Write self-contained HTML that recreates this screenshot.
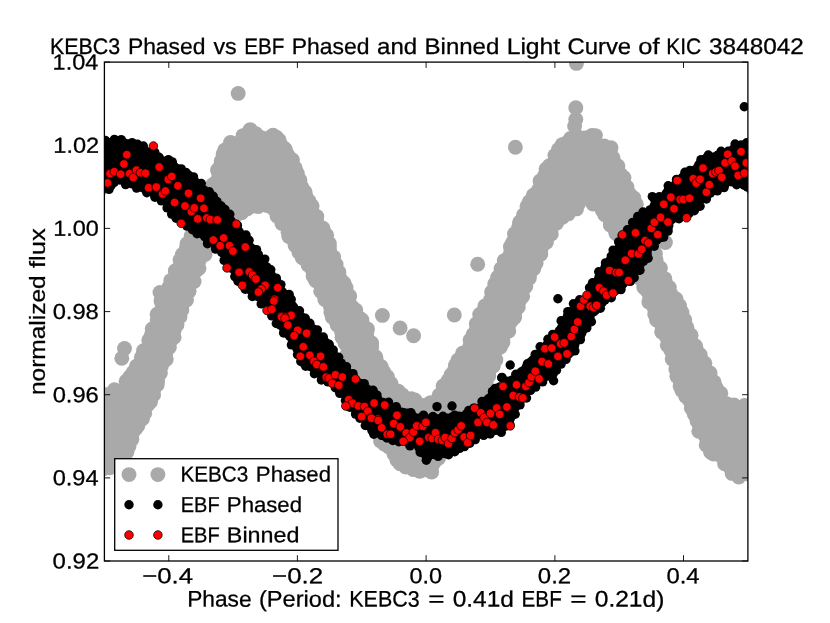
<!DOCTYPE html>
<html><head><meta charset="utf-8"><title>KIC 3848042 light curve</title>
<style>html,body{margin:0;padding:0;background:#fff;}svg{display:block;will-change:transform;}text{font-family:"Liberation Sans",sans-serif;}</style></head>
<body>
<svg width="830" height="623" viewBox="0 0 830 623">
<defs><clipPath id="ax"><rect x="104.4" y="62.1" width="643.5" height="498.9"/></clipPath></defs>
<rect width="830" height="623" fill="#fff"/>
<g clip-path="url(#ax)">
<g fill="#a9a9a9">
<polygon points="100.2,397.5 103.5,396.9 106.5,396.4 109.4,395.2 113.1,393.7 116.9,392.1 120.7,390.6 123.7,388.8 126,385.9 128.3,382.9 130.8,379.6 132.8,377.1 134.8,374.6 136.9,372 138.4,369 139.9,366 141.4,362.9 142.6,360.1 143.8,357.3 145,354.5 146.2,351.7 147.5,348.9 148.8,346.1 149.9,343.3 151,340.3 152,337.4 153,334.5 154,331.7 155.1,328.9 156.2,326 157.3,323.1 158.4,320.2 159.5,317.3 160.3,314.3 161.2,311.2 161.9,308.7 162.5,306.2 163.1,303.8 163.9,301 165.6,298.6 167.3,296.2 168.9,293.8 170,290.6 171.2,287.3 172.2,284.3 173,281.7 173.9,279.1 175.2,276.6 176.5,274.2 177.9,271.7 179.3,269.1 180.7,266.3 181.9,263.4 183.1,260.4 184.3,257.5 185.5,254.6 186.5,251.9 187.6,249.2 188.7,246.6 189.9,244 191.2,241.4 192.5,238.8 193.8,236.2 195.2,233.4 196.6,230.7 197.9,227.9 199.3,225.1 200.5,222.3 201.6,219.4 202.8,216.5 204,213.8 205.1,211 206.3,208.2 207.5,205.4 208.6,202.6 209.8,199.8 210.9,197 212,194.2 213.1,191.4 214.3,188.5 215.4,185.7 216.6,182.8 217.6,179.8 218.6,176.9 219.5,173.9 220.4,171 221.3,168.1 222.2,165.3 223.1,162.5 224.1,159.6 224.9,157.2 225.7,154.8 226.4,152.3 227.7,150 228.8,148.6 229.8,147.1 230.6,145.5 232.3,144.3 234.7,143.4 237.1,142.5 239.5,141.6 242.2,139.7 244.9,137.7 247.6,135.7 249.1,134.5 250,133.4 250.7,132.1 251.7,133 252.8,134.4 254.1,135.7 256.7,136.8 260.9,138.1 263.8,139.1 266.7,139 269.1,137.6 271.5,136.8 273.3,138.1 274.2,138.8 275.4,139.3 277,141.1 278.3,143 279.7,144.8 281.2,146.6 282.8,148.9 284.3,151.3 285.6,153.5 287,155.7 288.4,158 289.7,160.4 290.6,163 291.6,165.5 292.6,168 293.6,170.7 294.6,173.5 295.5,176.3 296.5,179.3 297.5,182.3 298.5,185.4 299.8,188.3 301.4,191.2 302.9,194 304.4,196.8 305.8,199.4 307.1,202.1 308.5,204.7 309.8,207.4 311.1,210.1 312.5,212.8 313.9,215.5 315.3,218.1 316.7,220.7 318.2,223.3 319.5,225.9 320.7,228.4 321.8,231 323,233.6 324.2,236.2 325.2,238.9 326.2,241.5 327.2,244 328.2,246.5 328.9,249.2 329.6,252.2 330.2,255.1 330.8,258.1 331.7,261.2 332.9,264.2 334.1,267.3 335.3,270.4 336.5,273.2 337.6,276.1 339,278.9 340.3,281.7 341.6,284.4 342.8,287.1 344.1,289.8 345.3,292.5 346.6,295.2 347.8,298 349,300.7 350.2,303.4 351.6,306.3 352.9,309.3 354.2,312.2 355.9,314.9 357.6,317.6 359.2,320.1 360.8,322.5 362.2,324.8 363.5,327.1 364.5,329.7 365.4,332.2 366.3,334.6 367.3,337.3 368.4,340.1 369.3,342.8 370.1,345.6 370.9,348.4 371.8,351.4 372.7,354.6 373.7,357.7 375,360.7 376.6,363.6 378.2,366.6 379.7,369.5 381.2,372.2 382.7,374.8 384.2,377.4 385.9,380.4 387.6,383.4 389.4,386.4 391.5,389.1 394,391.5 397.1,394.3 400.2,397 403.1,399.4 406.2,400.2 409.4,400.9 412.6,401.6 417,403.3 420.8,405.1 424.7,406.8 429.2,406.7 434,403.8 438.2,400.4 441.4,396.7 442.8,393.6 444.3,390.6 445.7,387.5 447.1,385 448.6,382.6 450.1,380.2 451.7,377.7 453.3,375.1 454.8,372.4 456.2,369.6 457.6,367 459,364.4 460.3,361.9 461.7,359.5 463.4,357.1 465.2,354.6 466.9,352 468.8,349.2 470.7,346.5 471.9,343.4 473.2,340.3 474.4,337.2 475.5,334.4 476.7,331.6 477.7,328.7 478.8,325.9 479.8,323 480.9,320.2 481.9,317.6 482.8,314.9 483.8,312.3 485.1,309.8 486.4,307.3 487.8,304.8 489.2,302.3 490.6,299.5 491.9,296.7 493.3,293.8 494.6,290.9 496,288 497.2,285.1 498.3,282.2 499.3,279.4 500.3,276.6 501.2,274 502.2,271.3 503.5,268.8 504.8,266.3 506.1,263.5 507.6,260.6 509,257.8 510,254.7 511,251.6 511.9,248.6 512.9,245.6 513.7,242.8 514.7,240 515.6,237.2 516.6,234.6 517.4,232.1 518.4,229.5 519.5,227 520.9,224.6 522.3,222.1 523.7,219.6 525.3,216.9 526.8,214.2 528.1,211.4 529.4,208.6 530.7,205.8 531.9,203.2 533.2,200.5 534.5,197.9 535.9,195.3 537.3,192.6 538.8,189.9 540.3,187.1 541.6,184.3 542.8,181.3 543.8,178.7 544.8,176.1 545.8,173.7 546.9,171.3 548.5,169.2 550.1,167 551.8,164.8 553.7,162.3 555.5,159.8 557.1,157.1 558.6,154.8 560,152.4 561.3,150.2 562.7,148.1 564.7,146.3 566.5,144.7 568.4,143.1 570.5,141.2 571.9,140 573.2,138.9 574.4,137.6 576.5,138 578.8,138.6 581.1,139.2 583.4,139.7 585.6,139.2 587.6,138.6 589.6,137.9 591.1,137 592.3,138.8 593.5,140.6 594.9,142.4 597.3,144.9 599.8,146.1 602.2,147.2 604.6,148.4 606.3,149.5 607.2,151.4 608.1,153.5 609.2,155.5 610.6,158.2 612.2,160.9 613.8,163.5 615.2,165.9 616.7,168.2 618.1,170.5 619.4,172.9 620.3,175.5 621.3,178.2 622.3,181 623.4,184 624.6,186.9 626.1,189.8 627.6,192.4 629,195.1 630.3,197.6 631.5,200.1 632.5,202.8 633.6,205.4 634.6,208 635.6,210.8 636.7,213.6 637.7,216.4 638.7,219.2 639.8,222 640.8,224.8 641.9,227.6 642.9,230.5 644,233.3 645,236.1 646.1,239 647.2,241.8 648.3,244.6 649.5,247.4 650.6,250.2 651.7,253 652.8,255.8 653.9,258.6 655.1,261.4 656.2,264.2 657.4,267 658.6,269.9 659.8,272.7 660.9,275.6 662.3,278.4 663.7,281.2 665.1,283.9 666.5,286.7 667.8,289.5 669.2,292.2 670.6,294.9 672,297.5 673.4,300.2 674.8,302.7 676.1,305.2 677.4,307.6 678.5,310.2 679.4,312.8 680.4,315.5 681.3,318.2 682.4,321.1 683.4,324 684.5,326.9 685.8,329.8 687,332.6 688.3,335.6 689.5,338.4 690.8,341.3 692.2,344 693.6,346.8 695.1,349.5 696.5,352.2 697.9,354.8 699.3,357.4 700.5,360 701.8,362.7 703,365.3 704.2,368 705.5,370.7 706.8,373.4 708,376.1 709.3,378.8 710.7,381.9 712.1,384.9 713.5,387.7 715.4,390.2 717.3,392.7 719.5,396 721.6,399.3 724.1,402.7 727.7,404.9 731.8,406.8 736.1,407.7 740.5,408 744.1,408 747.8,408 750.8,407.9 753.9,407.8 754.4,407.7 751.9,470.5 749.3,470.9 746.1,471.5 744.2,472.3 742.2,473.3 740.2,474.4 738.7,475 737.5,474.2 736.2,473.6 735.2,472.4 733.6,471 732.1,469.5 730.4,468.1 728.6,465.4 726.8,462.6 725,459.8 723,457.2 720.3,455.7 717.6,454.2 714.8,452.7 712.8,451.4 711.7,449.8 710.6,448.2 709.3,446.7 708.4,443.9 707.4,441.2 706.5,438.4 705,436 703.5,433.7 702.1,431.5 700.6,429.2 699.9,426.5 699.7,423.7 699.4,420.8 698.6,418.1 697.2,415 695.6,411.8 694.1,408.7 692.8,406 691.4,403.3 690.1,400.6 688.8,398 687.5,395.4 686.2,392.8 685,390.2 683.9,387.7 682.9,385.2 681.8,382.7 680.8,380 680.1,377.3 679.4,374.6 678.7,371.9 678,369 677.2,366.1 676.4,363 675.6,360 674.8,356.9 673.8,353.9 672.7,350.9 671.5,348 670.3,345 669.2,342.2 668,339.3 666.9,336.5 665.7,333.7 664.5,330.9 663.2,328.1 662,325.3 660.7,322.6 659.5,319.9 658.3,317.2 657.1,314.5 656,311.8 654.9,309.1 653.8,306.3 652.7,303.6 651.6,300.8 650.5,298 649.4,295.1 648.2,292.3 646.9,289.5 645.7,286.7 644.5,283.9 643.3,281.1 642,278.3 640.7,275.6 639.4,272.8 638.1,270.1 636.8,267.3 635.5,264.6 634.2,261.9 632.8,259.2 631.5,256.4 630.2,253.6 628.8,250.9 627.3,248.2 625.8,245.5 624.3,242.8 622.8,240.1 621.3,237.5 619.8,234.8 618.3,232.1 616.7,229.4 615.2,226.8 613.5,224.2 611.9,221.6 610.1,218.7 608.3,216 606.5,213.2 604.4,210.7 602.1,208.3 598.6,204.9 594.5,201.6 590.1,198.8 585.4,199.8 581,202.1 577.1,204.6 573.5,207.3 571.4,209 569,210.4 566.6,211.7 563.5,213.5 560.2,215.5 556.9,217.6 554.7,220.6 552.8,224 551.1,227.4 549.5,230.8 548.2,233.5 547,236.1 545.7,238.7 544.3,241.3 542.9,243.9 541.5,246.6 540,249.3 538.6,252 537.3,254.8 536,257.6 534.7,260.4 533.4,263.2 532.1,265.9 530.8,268.7 529.6,271.5 528.4,274.2 527.1,277.1 525.9,280 524.6,282.8 523.5,285.7 522.5,288.6 521.4,291.5 520.4,294.4 519.4,297.1 518.5,299.9 517.4,302.6 516.3,305.4 515.2,308.1 514.1,310.7 513,313.5 511.8,316.2 510.7,319 509.5,321.7 508.3,324.4 507.1,327.1 505.9,329.8 504.8,332.5 503.5,335.2 502.3,337.9 501,340.6 499.7,343.4 498.4,346.2 497.1,349 495.8,351.8 494.7,354.7 493.6,357.5 492.5,360.3 491.4,363.1 490.3,365.8 489.1,368.5 487.9,371.1 486.7,373.8 485.5,376.5 484.3,379.3 483.1,382 481.9,384.6 480.8,387.2 479.7,389.8 478.3,392.3 476.8,394.7 475.4,397.1 473.9,399.5 472.4,402.1 470.8,404.7 469.3,407.3 467.7,409.8 466.2,412.3 464.7,414.9 463.2,417.4 461.7,419.9 460.1,422.3 458.4,424.8 456.8,427.2 455.1,429.7 453.5,432.2 451.8,434.7 450.2,437.2 448.5,439.7 446.8,442.2 445.2,444.7 443.5,447.2 441.8,449.7 440.2,452.2 438.5,454.7 436.7,457.3 435,460 433.2,462.7 431.4,465.4 430.7,467.2 430.2,468.9 429.9,470.7 428.7,470.2 427.5,469.7 426.3,469.7 424.9,469.5 422.4,469 419.8,468.5 417.6,468.2 415.1,467.8 412.6,467.4 410.3,466.4 408.1,465.2 405.9,463.9 404.3,463.1 402.3,462.1 400.3,461.2 399.1,459.5 397.9,457.1 396.8,454.8 395.6,452.5 393.5,449.8 391.1,447.4 388.7,445 386.6,442.8 384.8,441 382.9,439.2 381.7,437 380.5,434.7 379.4,432.5 378.2,430.4 376.9,427.9 375.9,425.3 374.9,422.7 374,420 373,417.4 372,414.6 370.9,411.8 369.9,409 368.9,406.3 367.8,403.5 366.9,400.7 366,397.9 365,395.1 364.1,392.3 363.2,389.5 362.3,386.6 361.4,383.8 360.4,380.9 359.5,378.1 358.6,375.2 357.6,372.4 356.7,369.5 355.8,366.6 354.8,363.7 353.8,360.8 352.8,357.9 351.8,355 350.7,352.2 349.7,349.4 348.7,346.5 347.6,343.7 346.6,340.9 345.6,338.1 344.5,335 343.3,332 342.2,328.9 340.7,326 339.2,323.4 337.6,320.7 336,318.1 334.9,315.6 333.8,313 332.8,310.4 331.7,307.7 330.5,304.9 329.3,302 328,299.2 326.6,296.4 325.2,293.6 323.8,290.9 322.5,288.2 321.1,285.5 319.8,282.8 318.5,280.1 317.1,277.4 315.8,274.8 314.4,272.1 313.1,269.4 311.6,266.3 310.1,263.5 308.7,260.7 306.7,258.3 304.7,255.9 303,253.3 301.3,250.6 299.8,248.4 298.2,245.9 296.6,243.4 295,240.8 293.5,238.3 291.9,235.8 290.4,233.3 288.8,230.8 287.3,228.2 285.8,225.6 284.3,223.1 282.4,219.9 280.4,216.7 278.3,213.5 276,210.5 271.9,208 267.3,205.9 262.7,204.1 258.8,203.7 254.8,204.8 250.6,206.2 246.6,207.7 243.6,208.9 240.8,210.4 237.7,212.2 234.6,214 231.5,215.8 228.7,217.6 226.3,220 223.9,222.3 221.5,224.7 219.1,227.1 216.8,229.5 214.4,231.9 212.7,234.7 211,237.6 209.2,240.5 207.4,243.6 205.8,246.3 204.2,249.1 202.7,252 201.6,255 200.4,258 199.3,261 198.2,263.8 197.1,266.5 195.9,269.2 194.8,272 193.7,274.7 192.5,277.5 191.4,280.3 190.3,283.1 189.1,285.9 188,288.7 186.9,291.5 185.8,294.3 184.7,297.1 183.5,299.9 182.4,302.7 181.3,305.5 180.2,308.3 179.1,311.1 178,313.9 176.9,316.9 175.7,319.9 174.5,323 173.5,326 172.9,328.9 172.4,331.7 171.8,334.5 171.2,337.1 169.9,339.8 168.5,342.6 167.1,345.4 166.3,348.2 165.9,351.2 165.5,354.2 164.2,356.9 162.9,359.5 161.6,362.1 160.3,364.6 159.4,367.7 158.7,370.8 158,373.9 157.3,377 156.4,379.6 155.6,382.2 154.7,384.8 153.8,387.5 152.6,390.2 151.5,392.7 150.4,395.3 149.3,398 148.1,400.6 146.8,403.2 145.5,405.9 144.2,408.5 142.8,411.2 141.5,413.8 140.1,416.6 138.7,419.4 137.4,422.2 136,424.9 134.8,427.7 133.7,430.5 132.5,433.3 131.3,435.9 130.1,438.5 128.8,441.1 127.5,443.7 126.4,446.1 125.2,448.4 124.1,450.7 122.6,452.9 120.8,454.8 119.2,456.6 117.6,458.3 115.8,460.4 114.2,461.7 112.5,463 110.9,464.3 109.1,465.2 106.8,465.6 104.5,466 102.2,466.4 99.2,466.9 96.3,467.4"/><circle cx="102.3" cy="394.1" r="7.45"/><circle cx="114.5" cy="389.8" r="7.45"/><circle cx="126.1" cy="381.3" r="7.45"/><circle cx="129.7" cy="376.9" r="7.45"/><circle cx="133.1" cy="372.5" r="7.45"/><circle cx="136.3" cy="366.3" r="7.45"/><circle cx="141.4" cy="357.2" r="7.45"/><circle cx="143.5" cy="350.7" r="7.45"/><circle cx="148.8" cy="340.3" r="7.45"/><circle cx="152.2" cy="328.9" r="7.45"/><circle cx="157.1" cy="314.3" r="7.45"/><circle cx="161" cy="300.8" r="7.45"/><circle cx="163.5" cy="296.6" r="7.45"/><circle cx="168.9" cy="287.2" r="7.45"/><circle cx="170.8" cy="280.6" r="7.45"/><circle cx="175.3" cy="270.7" r="7.45"/><circle cx="180" cy="259.9" r="7.45"/><circle cx="182.4" cy="254.4" r="7.45"/><circle cx="187" cy="243.8" r="7.45"/><circle cx="191.1" cy="236" r="7.45"/><circle cx="195.3" cy="226.8" r="7.45"/><circle cx="201" cy="214.7" r="7.45"/><circle cx="204" cy="207.3" r="7.45"/><circle cx="208.5" cy="197.1" r="7.45"/><circle cx="212.7" cy="184.8" r="7.45"/><circle cx="217.5" cy="170" r="7.45"/><circle cx="221.2" cy="160.9" r="7.45"/><circle cx="223.1" cy="154.1" r="7.45"/><circle cx="224.6" cy="150.3" r="7.45"/><circle cx="230.5" cy="142.5" r="7.45"/><circle cx="243.1" cy="135.6" r="7.45"/><circle cx="250.2" cy="129.6" r="7.45"/><circle cx="255.9" cy="133.7" r="7.45"/><circle cx="273" cy="135.2" r="7.45"/><circle cx="276.2" cy="137.1" r="7.45"/><circle cx="279" cy="140" r="7.45"/><circle cx="285.3" cy="149.2" r="7.45"/><circle cx="292.5" cy="159.9" r="7.45"/><circle cx="295.2" cy="168.1" r="7.45"/><circle cx="297.3" cy="173.5" r="7.45"/><circle cx="299.9" cy="179.9" r="7.45"/><circle cx="301.4" cy="186.5" r="7.45"/><circle cx="305.1" cy="192" r="7.45"/><circle cx="309" cy="201.1" r="7.45"/><circle cx="312.1" cy="206.1" r="7.45"/><circle cx="316.8" cy="216.4" r="7.45"/><circle cx="323" cy="228.3" r="7.45"/><circle cx="326.7" cy="235.2" r="7.45"/><circle cx="329.3" cy="243.6" r="7.45"/><circle cx="333.7" cy="257.1" r="7.45"/><circle cx="336.1" cy="264.5" r="7.45"/><circle cx="338.9" cy="272.1" r="7.45"/><circle cx="344.2" cy="283.2" r="7.45"/><circle cx="346.1" cy="287.8" r="7.45"/><circle cx="349.7" cy="296" r="7.45"/><circle cx="355.8" cy="310.1" r="7.45"/><circle cx="362" cy="320" r="7.45"/><circle cx="367.5" cy="328.9" r="7.45"/><circle cx="371.7" cy="343" r="7.45"/><circle cx="375.8" cy="356.9" r="7.45"/><circle cx="381.1" cy="366.4" r="7.45"/><circle cx="383.8" cy="371.9" r="7.45"/><circle cx="387.4" cy="376.8" r="7.45"/><circle cx="391" cy="383.4" r="7.45"/><circle cx="398.2" cy="391.1" r="7.45"/><circle cx="402.5" cy="395" r="7.45"/><circle cx="411.3" cy="398.8" r="7.45"/><circle cx="414.9" cy="400" r="7.45"/><circle cx="430.6" cy="402.6" r="7.45"/><circle cx="439.1" cy="395.2" r="7.45"/><circle cx="443.1" cy="386" r="7.45"/><circle cx="451" cy="375" r="7.45"/><circle cx="455.4" cy="365.6" r="7.45"/><circle cx="457.8" cy="360.2" r="7.45"/><circle cx="462.5" cy="353.3" r="7.45"/><circle cx="470.1" cy="339.9" r="7.45"/><circle cx="473.2" cy="334.6" r="7.45"/><circle cx="476.3" cy="323.8" r="7.45"/><circle cx="479.7" cy="314.4" r="7.45"/><circle cx="484.9" cy="305.9" r="7.45"/><circle cx="491.6" cy="291.9" r="7.45"/><circle cx="494.7" cy="284.1" r="7.45"/><circle cx="497.6" cy="277.4" r="7.45"/><circle cx="501" cy="268.8" r="7.45"/><circle cx="504.3" cy="260.6" r="7.45"/><circle cx="510.4" cy="246.8" r="7.45"/><circle cx="514.5" cy="233.7" r="7.45"/><circle cx="519.6" cy="222.2" r="7.45"/><circle cx="523.5" cy="214.9" r="7.45"/><circle cx="527" cy="206.2" r="7.45"/><circle cx="529.4" cy="201.8" r="7.45"/><circle cx="533.3" cy="195.2" r="7.45"/><circle cx="540" cy="181.1" r="7.45"/><circle cx="546.1" cy="169.1" r="7.45"/><circle cx="554.9" cy="155.5" r="7.45"/><circle cx="558.5" cy="149.4" r="7.45"/><circle cx="562.3" cy="144.6" r="7.45"/><circle cx="570.5" cy="138.4" r="7.45"/><circle cx="577.1" cy="136.2" r="7.45"/><circle cx="591.7" cy="136.1" r="7.45"/><circle cx="592" cy="135.5" r="7.45"/><circle cx="604.2" cy="146" r="7.45"/><circle cx="610" cy="151.4" r="7.45"/><circle cx="613.1" cy="157.9" r="7.45"/><circle cx="617.9" cy="165.9" r="7.45"/><circle cx="624" cy="177.8" r="7.45"/><circle cx="627" cy="187.1" r="7.45"/><circle cx="633.9" cy="198" r="7.45"/><circle cx="636.3" cy="204.2" r="7.45"/><circle cx="640.8" cy="218.4" r="7.45"/><circle cx="642.9" cy="224" r="7.45"/><circle cx="648.7" cy="239.1" r="7.45"/><circle cx="652.2" cy="247.4" r="7.45"/><circle cx="655.4" cy="253.7" r="7.45"/><circle cx="660.4" cy="267.9" r="7.45"/><circle cx="664.7" cy="278.6" r="7.45"/><circle cx="669.3" cy="287.5" r="7.45"/><circle cx="676.1" cy="298.9" r="7.45"/><circle cx="679.6" cy="305.8" r="7.45"/><circle cx="682" cy="312.6" r="7.45"/><circle cx="684.8" cy="320" r="7.45"/><circle cx="686.9" cy="327.2" r="7.45"/><circle cx="691.1" cy="335.3" r="7.45"/><circle cx="695.6" cy="346" r="7.45"/><circle cx="700.2" cy="354.7" r="7.45"/><circle cx="704.9" cy="363.3" r="7.45"/><circle cx="710.1" cy="373" r="7.45"/><circle cx="714.1" cy="382.1" r="7.45"/><circle cx="716.2" cy="387.7" r="7.45"/><circle cx="720.8" cy="393.2" r="7.45"/><circle cx="733.9" cy="404.9" r="7.45"/><circle cx="744.6" cy="405.5" r="7.45"/><circle cx="102.6" cy="395.8" r="7.45"/><circle cx="109.7" cy="394.1" r="7.45"/><circle cx="114" cy="393.8" r="7.45"/><circle cx="119.3" cy="391.3" r="7.45"/><circle cx="127.4" cy="385.4" r="7.45"/><circle cx="130" cy="380.6" r="7.45"/><circle cx="132.7" cy="376.8" r="7.45"/><circle cx="136.4" cy="371.9" r="7.45"/><circle cx="139.2" cy="366.6" r="7.45"/><circle cx="142.9" cy="360.1" r="7.45"/><circle cx="145.8" cy="354.8" r="7.45"/><circle cx="146.4" cy="350.9" r="7.45"/><circle cx="150.1" cy="344.3" r="7.45"/><circle cx="149.8" cy="339.6" r="7.45"/><circle cx="151.4" cy="334.9" r="7.45"/><circle cx="152.7" cy="331.2" r="7.45"/><circle cx="156.2" cy="327.3" r="7.45"/><circle cx="157.2" cy="320" r="7.45"/><circle cx="160.2" cy="315.2" r="7.45"/><circle cx="161.9" cy="311.3" r="7.45"/><circle cx="162.1" cy="304.1" r="7.45"/><circle cx="163.7" cy="300.6" r="7.45"/><circle cx="167.6" cy="297.7" r="7.45"/><circle cx="169.1" cy="289.7" r="7.45"/><circle cx="171.7" cy="285" r="7.45"/><circle cx="172.4" cy="280.3" r="7.45"/><circle cx="174.9" cy="277.8" r="7.45"/><circle cx="175.6" cy="275.5" r="7.45"/><circle cx="176.8" cy="270.4" r="7.45"/><circle cx="180.8" cy="266.3" r="7.45"/><circle cx="181.5" cy="260.6" r="7.45"/><circle cx="185.5" cy="255.7" r="7.45"/><circle cx="186.4" cy="248.6" r="7.45"/><circle cx="187.7" cy="245.1" r="7.45"/><circle cx="190.8" cy="240.3" r="7.45"/><circle cx="192.9" cy="236.9" r="7.45"/><circle cx="196.5" cy="232" r="7.45"/><circle cx="196.8" cy="227.5" r="7.45"/><circle cx="200.8" cy="221.1" r="7.45"/><circle cx="202" cy="215.1" r="7.45"/><circle cx="204.6" cy="212.9" r="7.45"/><circle cx="205" cy="207.7" r="7.45"/><circle cx="208.7" cy="202.7" r="7.45"/><circle cx="209.6" cy="196.5" r="7.45"/><circle cx="212.2" cy="190" r="7.45"/><circle cx="215.4" cy="184.7" r="7.45"/><circle cx="217.2" cy="180.8" r="7.45"/><circle cx="218.7" cy="173.5" r="7.45"/><circle cx="220.2" cy="170.9" r="7.45"/><circle cx="220.6" cy="165.8" r="7.45"/><circle cx="221.4" cy="163" r="7.45"/><circle cx="223.3" cy="159.4" r="7.45"/><circle cx="226" cy="155.1" r="7.45"/><circle cx="226.3" cy="151.9" r="7.45"/><circle cx="227.4" cy="149.4" r="7.45"/><circle cx="228.6" cy="147.2" r="7.45"/><circle cx="231" cy="146" r="7.45"/><circle cx="231.7" cy="143.6" r="7.45"/><circle cx="235.1" cy="144.3" r="7.45"/><circle cx="239.8" cy="142.1" r="7.45"/><circle cx="244.6" cy="137.6" r="7.45"/><circle cx="249.1" cy="133.9" r="7.45"/><circle cx="251.5" cy="132.8" r="7.45"/><circle cx="248.8" cy="131.9" r="7.45"/><circle cx="254.7" cy="136.4" r="7.45"/><circle cx="261.4" cy="137.8" r="7.45"/><circle cx="269.9" cy="137.5" r="7.45"/><circle cx="273.1" cy="135.8" r="7.45"/><circle cx="272.7" cy="136.9" r="7.45"/><circle cx="275" cy="137.7" r="7.45"/><circle cx="276.3" cy="141.5" r="7.45"/><circle cx="280.8" cy="144.8" r="7.45"/><circle cx="283" cy="147.6" r="7.45"/><circle cx="285.6" cy="151.2" r="7.45"/><circle cx="288" cy="155.6" r="7.45"/><circle cx="288.8" cy="160.6" r="7.45"/><circle cx="292.4" cy="165" r="7.45"/><circle cx="294.4" cy="170.5" r="7.45"/><circle cx="296.6" cy="174.7" r="7.45"/><circle cx="296.7" cy="178.9" r="7.45"/><circle cx="299.1" cy="183.7" r="7.45"/><circle cx="301.9" cy="188.8" r="7.45"/><circle cx="303.7" cy="192.7" r="7.45"/><circle cx="306.2" cy="197.1" r="7.45"/><circle cx="307" cy="199.9" r="7.45"/><circle cx="308.5" cy="204.6" r="7.45"/><circle cx="310.3" cy="209.3" r="7.45"/><circle cx="312.7" cy="213.8" r="7.45"/><circle cx="316.4" cy="218.9" r="7.45"/><circle cx="317.4" cy="223.9" r="7.45"/><circle cx="319.6" cy="226.8" r="7.45"/><circle cx="323.2" cy="230.4" r="7.45"/><circle cx="323.5" cy="236.5" r="7.45"/><circle cx="326" cy="241.7" r="7.45"/><circle cx="329.4" cy="246.3" r="7.45"/><circle cx="329.5" cy="250.6" r="7.45"/><circle cx="330" cy="256.9" r="7.45"/><circle cx="332.7" cy="263.5" r="7.45"/><circle cx="335.1" cy="270.3" r="7.45"/><circle cx="338.2" cy="274.7" r="7.45"/><circle cx="340.1" cy="278.4" r="7.45"/><circle cx="341.9" cy="282.1" r="7.45"/><circle cx="343.4" cy="288" r="7.45"/><circle cx="345.7" cy="293.4" r="7.45"/><circle cx="348.1" cy="297.8" r="7.45"/><circle cx="349" cy="301.8" r="7.45"/><circle cx="352.2" cy="306.9" r="7.45"/><circle cx="354.1" cy="312.2" r="7.45"/><circle cx="355.8" cy="315.3" r="7.45"/><circle cx="359.5" cy="318" r="7.45"/><circle cx="360.3" cy="322.3" r="7.45"/><circle cx="362.2" cy="325.3" r="7.45"/><circle cx="364.9" cy="329.9" r="7.45"/><circle cx="366.7" cy="334.6" r="7.45"/><circle cx="367.7" cy="339.4" r="7.45"/><circle cx="369.7" cy="344.5" r="7.45"/><circle cx="371.7" cy="347" r="7.45"/><circle cx="371.4" cy="351.3" r="7.45"/><circle cx="373.4" cy="356.6" r="7.45"/><circle cx="376" cy="359.4" r="7.45"/><circle cx="376.7" cy="364.2" r="7.45"/><circle cx="379.6" cy="369.5" r="7.45"/><circle cx="381.9" cy="372.9" r="7.45"/><circle cx="384.5" cy="377.3" r="7.45"/><circle cx="385.6" cy="381.3" r="7.45"/><circle cx="387.7" cy="385.5" r="7.45"/><circle cx="394.7" cy="390.1" r="7.45"/><circle cx="397.2" cy="395.2" r="7.45"/><circle cx="406.3" cy="400" r="7.45"/><circle cx="412" cy="400.7" r="7.45"/><circle cx="415.7" cy="401.7" r="7.45"/><circle cx="423" cy="405.4" r="7.45"/><circle cx="434.3" cy="404.8" r="7.45"/><circle cx="438.8" cy="400.5" r="7.45"/><circle cx="443.3" cy="394.5" r="7.45"/><circle cx="444.2" cy="388.5" r="7.45"/><circle cx="447.7" cy="383.5" r="7.45"/><circle cx="448.1" cy="380.4" r="7.45"/><circle cx="451.8" cy="376.7" r="7.45"/><circle cx="453.3" cy="372.6" r="7.45"/><circle cx="456.1" cy="368.2" r="7.45"/><circle cx="458.2" cy="362.5" r="7.45"/><circle cx="462.7" cy="359.1" r="7.45"/><circle cx="464.4" cy="357.1" r="7.45"/><circle cx="467.8" cy="352.1" r="7.45"/><circle cx="469.4" cy="347.2" r="7.45"/><circle cx="473.5" cy="342.3" r="7.45"/><circle cx="473.8" cy="337" r="7.45"/><circle cx="475.5" cy="332.2" r="7.45"/><circle cx="476.5" cy="328.2" r="7.45"/><circle cx="479.1" cy="322.7" r="7.45"/><circle cx="481" cy="317" r="7.45"/><circle cx="483" cy="313.8" r="7.45"/><circle cx="484" cy="310.5" r="7.45"/><circle cx="488.3" cy="305.4" r="7.45"/><circle cx="490.7" cy="299.5" r="7.45"/><circle cx="494.1" cy="294.1" r="7.45"/><circle cx="496.1" cy="288.3" r="7.45"/><circle cx="497.5" cy="285.3" r="7.45"/><circle cx="499.4" cy="280.2" r="7.45"/><circle cx="499.9" cy="275.1" r="7.45"/><circle cx="502.6" cy="272.4" r="7.45"/><circle cx="503.1" cy="268.8" r="7.45"/><circle cx="504.4" cy="265.1" r="7.45"/><circle cx="508.8" cy="260.2" r="7.45"/><circle cx="509.8" cy="255.5" r="7.45"/><circle cx="511" cy="251.1" r="7.45"/><circle cx="511.5" cy="246.1" r="7.45"/><circle cx="512.7" cy="242.4" r="7.45"/><circle cx="515.3" cy="237.2" r="7.45"/><circle cx="517.7" cy="233.8" r="7.45"/><circle cx="518.6" cy="227.7" r="7.45"/><circle cx="519.7" cy="224.5" r="7.45"/><circle cx="521.5" cy="222.1" r="7.45"/><circle cx="523.3" cy="218.5" r="7.45"/><circle cx="526.2" cy="215.1" r="7.45"/><circle cx="529.4" cy="209.5" r="7.45"/><circle cx="530.7" cy="204.6" r="7.45"/><circle cx="532.6" cy="200.2" r="7.45"/><circle cx="534.1" cy="195.6" r="7.45"/><circle cx="538" cy="193.3" r="7.45"/><circle cx="538.4" cy="190.1" r="7.45"/><circle cx="542.2" cy="184.4" r="7.45"/><circle cx="542.4" cy="179.8" r="7.45"/><circle cx="544.2" cy="176.2" r="7.45"/><circle cx="547" cy="172.9" r="7.45"/><circle cx="549.2" cy="169.4" r="7.45"/><circle cx="549.3" cy="165.7" r="7.45"/><circle cx="554.8" cy="162" r="7.45"/><circle cx="557.2" cy="156.9" r="7.45"/><circle cx="558.4" cy="154" r="7.45"/><circle cx="562.4" cy="149.5" r="7.45"/><circle cx="565.5" cy="146.9" r="7.45"/><circle cx="567" cy="142.6" r="7.45"/><circle cx="570.3" cy="141" r="7.45"/><circle cx="574.5" cy="139.2" r="7.45"/><circle cx="574.2" cy="138.1" r="7.45"/><circle cx="578" cy="138.6" r="7.45"/><circle cx="584.7" cy="138" r="7.45"/><circle cx="591.6" cy="137.4" r="7.45"/><circle cx="590.6" cy="137.5" r="7.45"/><circle cx="592.7" cy="138.2" r="7.45"/><circle cx="595.3" cy="142.9" r="7.45"/><circle cx="602.9" cy="146.4" r="7.45"/><circle cx="605.4" cy="148.8" r="7.45"/><circle cx="606.9" cy="149.5" r="7.45"/><circle cx="607.2" cy="151.8" r="7.45"/><circle cx="609.3" cy="154.1" r="7.45"/><circle cx="610.3" cy="159.5" r="7.45"/><circle cx="613.3" cy="164" r="7.45"/><circle cx="617.3" cy="167.4" r="7.45"/><circle cx="618" cy="172" r="7.45"/><circle cx="620.9" cy="174.8" r="7.45"/><circle cx="621.7" cy="178.6" r="7.45"/><circle cx="623.7" cy="183.5" r="7.45"/><circle cx="625" cy="188" r="7.45"/><circle cx="629.6" cy="194.1" r="7.45"/><circle cx="630.6" cy="196.6" r="7.45"/><circle cx="631.6" cy="200.9" r="7.45"/><circle cx="632.7" cy="204.5" r="7.45"/><circle cx="635.5" cy="209.8" r="7.45"/><circle cx="635.8" cy="213.9" r="7.45"/><circle cx="637.5" cy="217.5" r="7.45"/><circle cx="640.4" cy="220.7" r="7.45"/><circle cx="642.3" cy="226.4" r="7.45"/><circle cx="644.2" cy="233.1" r="7.45"/><circle cx="646" cy="235.7" r="7.45"/><circle cx="646.7" cy="240.9" r="7.45"/><circle cx="650.6" cy="247" r="7.45"/><circle cx="651.9" cy="250.8" r="7.45"/><circle cx="654.7" cy="257.2" r="7.45"/><circle cx="656.1" cy="260" r="7.45"/><circle cx="656" cy="265.4" r="7.45"/><circle cx="658.6" cy="270.8" r="7.45"/><circle cx="661.1" cy="277.9" r="7.45"/><circle cx="665.2" cy="281.7" r="7.45"/><circle cx="666.6" cy="287.8" r="7.45"/><circle cx="668.2" cy="290.4" r="7.45"/><circle cx="671.2" cy="294.6" r="7.45"/><circle cx="673.5" cy="297.9" r="7.45"/><circle cx="675.2" cy="301.6" r="7.45"/><circle cx="675.5" cy="306" r="7.45"/><circle cx="677" cy="308.9" r="7.45"/><circle cx="679.6" cy="311.4" r="7.45"/><circle cx="680.4" cy="317.3" r="7.45"/><circle cx="684" cy="321.4" r="7.45"/><circle cx="685.1" cy="326.8" r="7.45"/><circle cx="688.1" cy="332.3" r="7.45"/><circle cx="688.4" cy="337.6" r="7.45"/><circle cx="690.8" cy="340" r="7.45"/><circle cx="692.9" cy="346.2" r="7.45"/><circle cx="696" cy="348" r="7.45"/><circle cx="695.9" cy="352.6" r="7.45"/><circle cx="698.1" cy="355.8" r="7.45"/><circle cx="701.5" cy="360.5" r="7.45"/><circle cx="702.1" cy="365.6" r="7.45"/><circle cx="705.9" cy="369.4" r="7.45"/><circle cx="708.3" cy="374.9" r="7.45"/><circle cx="710.7" cy="378.2" r="7.45"/><circle cx="711.2" cy="384.9" r="7.45"/><circle cx="714.4" cy="390.4" r="7.45"/><circle cx="718.5" cy="392.6" r="7.45"/><circle cx="719.2" cy="397.3" r="7.45"/><circle cx="726.6" cy="403.6" r="7.45"/><circle cx="733.4" cy="406.9" r="7.45"/><circle cx="740.6" cy="408.9" r="7.45"/><circle cx="744.6" cy="408.5" r="7.45"/><circle cx="751" cy="408.5" r="7.45"/><circle cx="102.7" cy="469.2" r="7.45"/><circle cx="109.7" cy="467.8" r="7.45"/><circle cx="118.5" cy="462" r="7.45"/><circle cx="122.3" cy="456.5" r="7.45"/><circle cx="126.9" cy="451.9" r="7.45"/><circle cx="128.9" cy="446.6" r="7.45"/><circle cx="131.9" cy="439.3" r="7.45"/><circle cx="137.8" cy="425.8" r="7.45"/><circle cx="142.5" cy="418.8" r="7.45"/><circle cx="144.7" cy="413.2" r="7.45"/><circle cx="150.5" cy="401.7" r="7.45"/><circle cx="153.6" cy="394.7" r="7.45"/><circle cx="157.2" cy="384.8" r="7.45"/><circle cx="160.4" cy="373.1" r="7.45"/><circle cx="166.2" cy="359.6" r="7.45"/><circle cx="169.4" cy="347.2" r="7.45"/><circle cx="174.1" cy="337.3" r="7.45"/><circle cx="177" cy="324.7" r="7.45"/><circle cx="180" cy="316.8" r="7.45"/><circle cx="181.9" cy="310" r="7.45"/><circle cx="186.5" cy="300" r="7.45"/><circle cx="189.1" cy="291.3" r="7.45"/><circle cx="194.1" cy="281.4" r="7.45"/><circle cx="199" cy="268.3" r="7.45"/><circle cx="205.1" cy="254.5" r="7.45"/><circle cx="210" cy="243.6" r="7.45"/><circle cx="218.6" cy="230.6" r="7.45"/><circle cx="222.8" cy="227.4" r="7.45"/><circle cx="228" cy="222.4" r="7.45"/><circle cx="241.6" cy="212.7" r="7.45"/><circle cx="258.2" cy="206.5" r="7.45"/><circle cx="277" cy="216" r="7.45"/><circle cx="281.9" cy="223.4" r="7.45"/><circle cx="288.8" cy="236.6" r="7.45"/><circle cx="295.1" cy="245.5" r="7.45"/><circle cx="299.1" cy="252.4" r="7.45"/><circle cx="302.3" cy="257.7" r="7.45"/><circle cx="308.1" cy="264.9" r="7.45"/><circle cx="313.1" cy="276.1" r="7.45"/><circle cx="315.5" cy="280.5" r="7.45"/><circle cx="320.7" cy="291.3" r="7.45"/><circle cx="324.8" cy="299.4" r="7.45"/><circle cx="330.9" cy="312.5" r="7.45"/><circle cx="332.2" cy="317.1" r="7.45"/><circle cx="337.2" cy="325" r="7.45"/><circle cx="342" cy="337.3" r="7.45"/><circle cx="345.1" cy="343.6" r="7.45"/><circle cx="347.7" cy="352.2" r="7.45"/><circle cx="351.5" cy="360.5" r="7.45"/><circle cx="353.7" cy="368.4" r="7.45"/><circle cx="356.3" cy="377" r="7.45"/><circle cx="361.6" cy="391.1" r="7.45"/><circle cx="363.5" cy="399.9" r="7.45"/><circle cx="367.8" cy="411.9" r="7.45"/><circle cx="370.3" cy="416.3" r="7.45"/><circle cx="373.7" cy="425.6" r="7.45"/><circle cx="377.1" cy="432.8" r="7.45"/><circle cx="380.6" cy="441.1" r="7.45"/><circle cx="384.5" cy="444.3" r="7.45"/><circle cx="394" cy="453.9" r="7.45"/><circle cx="396.9" cy="459.9" r="7.45"/><circle cx="400.1" cy="463.8" r="7.45"/><circle cx="405.8" cy="467.1" r="7.45"/><circle cx="413.2" cy="469.5" r="7.45"/><circle cx="419.7" cy="471.2" r="7.45"/><circle cx="430.8" cy="471.3" r="7.45"/><circle cx="431.7" cy="472" r="7.45"/><circle cx="438.5" cy="458.3" r="7.45"/><circle cx="445" cy="450.6" r="7.45"/><circle cx="453" cy="437.9" r="7.45"/><circle cx="461.1" cy="425.2" r="7.45"/><circle cx="468.8" cy="413.9" r="7.45"/><circle cx="475.4" cy="402.8" r="7.45"/><circle cx="479.8" cy="393.9" r="7.45"/><circle cx="486.2" cy="382.3" r="7.45"/><circle cx="488.8" cy="375.8" r="7.45"/><circle cx="493.3" cy="365.9" r="7.45"/><circle cx="495.9" cy="359.7" r="7.45"/><circle cx="500.4" cy="346.9" r="7.45"/><circle cx="502.9" cy="342.5" r="7.45"/><circle cx="508.8" cy="331.1" r="7.45"/><circle cx="514.6" cy="317.5" r="7.45"/><circle cx="518.3" cy="307.1" r="7.45"/><circle cx="522.7" cy="296.3" r="7.45"/><circle cx="525.8" cy="286.6" r="7.45"/><circle cx="529.4" cy="278" r="7.45"/><circle cx="533.7" cy="268.8" r="7.45"/><circle cx="536.1" cy="263.2" r="7.45"/><circle cx="540.8" cy="254.3" r="7.45"/><circle cx="546.4" cy="242.2" r="7.45"/><circle cx="551.3" cy="234" r="7.45"/><circle cx="556.5" cy="223.3" r="7.45"/><circle cx="562.5" cy="217.2" r="7.45"/><circle cx="568.1" cy="213.9" r="7.45"/><circle cx="576.5" cy="208.9" r="7.45"/><circle cx="593.1" cy="204" r="7.45"/><circle cx="604.8" cy="214.7" r="7.45"/><circle cx="610.3" cy="224.9" r="7.45"/><circle cx="615.9" cy="233.6" r="7.45"/><circle cx="623.1" cy="246.8" r="7.45"/><circle cx="631" cy="260.1" r="7.45"/><circle cx="636.5" cy="271.9" r="7.45"/><circle cx="639.8" cy="278.2" r="7.45"/><circle cx="643.8" cy="287.5" r="7.45"/><circle cx="648.8" cy="301.9" r="7.45"/><circle cx="654.8" cy="314.5" r="7.45"/><circle cx="656.6" cy="320.1" r="7.45"/><circle cx="661.7" cy="332" r="7.45"/><circle cx="667.3" cy="345.2" r="7.45"/><circle cx="672.2" cy="358.9" r="7.45"/><circle cx="675.9" cy="369.5" r="7.45"/><circle cx="676.9" cy="376.5" r="7.45"/><circle cx="680.1" cy="386" r="7.45"/><circle cx="681.9" cy="390.5" r="7.45"/><circle cx="685.6" cy="396.2" r="7.45"/><circle cx="691.3" cy="407.9" r="7.45"/><circle cx="694.3" cy="414.2" r="7.45"/><circle cx="697" cy="421.1" r="7.45"/><circle cx="698.8" cy="431.3" r="7.45"/><circle cx="706.2" cy="445.1" r="7.45"/><circle cx="710.6" cy="451.9" r="7.45"/><circle cx="713.6" cy="454.1" r="7.45"/><circle cx="724.6" cy="463.8" r="7.45"/><circle cx="732.1" cy="473.4" r="7.45"/><circle cx="738.8" cy="477.1" r="7.45"/><circle cx="746.8" cy="473.7" r="7.45"/><circle cx="96.3" cy="467.1" r="7.45"/><circle cx="100.2" cy="466.2" r="7.45"/><circle cx="104.1" cy="466" r="7.45"/><circle cx="109.5" cy="465.1" r="7.45"/><circle cx="112" cy="464.3" r="7.45"/><circle cx="114.3" cy="463.5" r="7.45"/><circle cx="115.8" cy="460.3" r="7.45"/><circle cx="118.8" cy="457.4" r="7.45"/><circle cx="123.2" cy="454" r="7.45"/><circle cx="123.8" cy="450.9" r="7.45"/><circle cx="126.7" cy="448.9" r="7.45"/><circle cx="128.3" cy="445.2" r="7.45"/><circle cx="130.2" cy="440.7" r="7.45"/><circle cx="131.4" cy="435.9" r="7.45"/><circle cx="132.8" cy="432.5" r="7.45"/><circle cx="135.9" cy="428.4" r="7.45"/><circle cx="138.3" cy="422.5" r="7.45"/><circle cx="140.5" cy="418.9" r="7.45"/><circle cx="141.3" cy="412.7" r="7.45"/><circle cx="145.1" cy="407.8" r="7.45"/><circle cx="147.8" cy="404.7" r="7.45"/><circle cx="148.7" cy="399.8" r="7.45"/><circle cx="150.3" cy="395.4" r="7.45"/><circle cx="151.6" cy="390.5" r="7.45"/><circle cx="155" cy="387" r="7.45"/><circle cx="157.6" cy="380.9" r="7.45"/><circle cx="158.1" cy="376.3" r="7.45"/><circle cx="159.7" cy="373" r="7.45"/><circle cx="161.4" cy="366.1" r="7.45"/><circle cx="161.8" cy="359.7" r="7.45"/><circle cx="165.1" cy="357.3" r="7.45"/><circle cx="165.7" cy="354" r="7.45"/><circle cx="165.8" cy="347.5" r="7.45"/><circle cx="169.1" cy="342.9" r="7.45"/><circle cx="171.6" cy="339.6" r="7.45"/><circle cx="171.2" cy="334.9" r="7.45"/><circle cx="174.3" cy="329.8" r="7.45"/><circle cx="174.3" cy="322.5" r="7.45"/><circle cx="176.3" cy="317.5" r="7.45"/><circle cx="179.4" cy="313.3" r="7.45"/><circle cx="180.8" cy="309.6" r="7.45"/><circle cx="181.6" cy="306.7" r="7.45"/><circle cx="183" cy="300.8" r="7.45"/><circle cx="185.2" cy="295.1" r="7.45"/><circle cx="187" cy="291.6" r="7.45"/><circle cx="188.3" cy="286.7" r="7.45"/><circle cx="191.5" cy="282.5" r="7.45"/><circle cx="192.1" cy="276.2" r="7.45"/><circle cx="193.8" cy="272.6" r="7.45"/><circle cx="196.4" cy="270.5" r="7.45"/><circle cx="196.8" cy="266.3" r="7.45"/><circle cx="199.3" cy="260" r="7.45"/><circle cx="200.4" cy="256.1" r="7.45"/><circle cx="203.6" cy="252.6" r="7.45"/><circle cx="206.5" cy="245.1" r="7.45"/><circle cx="209.5" cy="239.8" r="7.45"/><circle cx="213.4" cy="234.3" r="7.45"/><circle cx="217.8" cy="228.1" r="7.45"/><circle cx="223.2" cy="223.6" r="7.45"/><circle cx="226.9" cy="219.5" r="7.45"/><circle cx="232.5" cy="216.4" r="7.45"/><circle cx="237.4" cy="213.9" r="7.45"/><circle cx="244.1" cy="210" r="7.45"/><circle cx="247.4" cy="208.8" r="7.45"/><circle cx="252.9" cy="206" r="7.45"/><circle cx="259.8" cy="204.8" r="7.45"/><circle cx="267.1" cy="205.5" r="7.45"/><circle cx="273.4" cy="208.7" r="7.45"/><circle cx="278.8" cy="216.5" r="7.45"/><circle cx="282.2" cy="220.9" r="7.45"/><circle cx="286.3" cy="225.4" r="7.45"/><circle cx="288.1" cy="232.3" r="7.45"/><circle cx="293.1" cy="236.2" r="7.45"/><circle cx="295" cy="243.2" r="7.45"/><circle cx="297.1" cy="246.5" r="7.45"/><circle cx="300.3" cy="248" r="7.45"/><circle cx="303" cy="253.2" r="7.45"/><circle cx="306.1" cy="257.4" r="7.45"/><circle cx="307.9" cy="262.1" r="7.45"/><circle cx="311.6" cy="265.7" r="7.45"/><circle cx="312.4" cy="269.7" r="7.45"/><circle cx="314" cy="274.6" r="7.45"/><circle cx="316.4" cy="277.8" r="7.45"/><circle cx="319.2" cy="283.1" r="7.45"/><circle cx="322.4" cy="286" r="7.45"/><circle cx="324.4" cy="290.6" r="7.45"/><circle cx="324.7" cy="296" r="7.45"/><circle cx="328" cy="300.3" r="7.45"/><circle cx="330.3" cy="306.2" r="7.45"/><circle cx="333" cy="311.6" r="7.45"/><circle cx="335.3" cy="314.8" r="7.45"/><circle cx="336.1" cy="317.2" r="7.45"/><circle cx="336" cy="321.1" r="7.45"/><circle cx="339.8" cy="323.6" r="7.45"/><circle cx="341.6" cy="331.9" r="7.45"/><circle cx="344.6" cy="336.3" r="7.45"/><circle cx="345.9" cy="342.2" r="7.45"/><circle cx="348" cy="346.8" r="7.45"/><circle cx="349.8" cy="352.5" r="7.45"/><circle cx="352" cy="358.1" r="7.45"/><circle cx="354.4" cy="361.7" r="7.45"/><circle cx="354.5" cy="367.1" r="7.45"/><circle cx="356.3" cy="372.8" r="7.45"/><circle cx="359.7" cy="378" r="7.45"/><circle cx="361.4" cy="383.8" r="7.45"/><circle cx="362.1" cy="387.8" r="7.45"/><circle cx="364.8" cy="392.1" r="7.45"/><circle cx="366" cy="395.9" r="7.45"/><circle cx="365.3" cy="399.3" r="7.45"/><circle cx="368.2" cy="402.3" r="7.45"/><circle cx="368.6" cy="407.3" r="7.45"/><circle cx="370.3" cy="413.1" r="7.45"/><circle cx="372.8" cy="417.5" r="7.45"/><circle cx="375.4" cy="422.9" r="7.45"/><circle cx="376.3" cy="428.3" r="7.45"/><circle cx="377.5" cy="431.5" r="7.45"/><circle cx="381.5" cy="436.2" r="7.45"/><circle cx="382.5" cy="440.5" r="7.45"/><circle cx="386.6" cy="442.3" r="7.45"/><circle cx="389" cy="447" r="7.45"/><circle cx="394.8" cy="450.1" r="7.45"/><circle cx="396" cy="455.5" r="7.45"/><circle cx="399.7" cy="459.5" r="7.45"/><circle cx="400" cy="462.2" r="7.45"/><circle cx="402.3" cy="463" r="7.45"/><circle cx="406.1" cy="464.3" r="7.45"/><circle cx="409.1" cy="466.5" r="7.45"/><circle cx="412" cy="466.3" r="7.45"/><circle cx="415" cy="469.1" r="7.45"/><circle cx="421.9" cy="470.3" r="7.45"/><circle cx="425.9" cy="468.7" r="7.45"/><circle cx="430.3" cy="469" r="7.45"/><circle cx="430.8" cy="471.2" r="7.45"/><circle cx="430.6" cy="470.1" r="7.45"/><circle cx="432" cy="465.6" r="7.45"/><circle cx="433.8" cy="462.7" r="7.45"/><circle cx="436.7" cy="457.1" r="7.45"/><circle cx="439.6" cy="453" r="7.45"/><circle cx="443.4" cy="449.5" r="7.45"/><circle cx="446.2" cy="444.2" r="7.45"/><circle cx="447.9" cy="439.3" r="7.45"/><circle cx="451.4" cy="435.6" r="7.45"/><circle cx="455" cy="430.8" r="7.45"/><circle cx="456.6" cy="427.1" r="7.45"/><circle cx="459.8" cy="422" r="7.45"/><circle cx="462.6" cy="417.1" r="7.45"/><circle cx="466.1" cy="412.4" r="7.45"/><circle cx="469.4" cy="408.5" r="7.45"/><circle cx="472.5" cy="404.5" r="7.45"/><circle cx="473.5" cy="399.3" r="7.45"/><circle cx="476.4" cy="395.2" r="7.45"/><circle cx="479.3" cy="391.5" r="7.45"/><circle cx="480.3" cy="388.2" r="7.45"/><circle cx="482.1" cy="383.8" r="7.45"/><circle cx="486.2" cy="377.9" r="7.45"/><circle cx="486.8" cy="372.7" r="7.45"/><circle cx="489.5" cy="368.5" r="7.45"/><circle cx="492.8" cy="363.7" r="7.45"/><circle cx="494.6" cy="358.1" r="7.45"/><circle cx="495" cy="351.5" r="7.45"/><circle cx="499.3" cy="347.5" r="7.45"/><circle cx="500.3" cy="342.4" r="7.45"/><circle cx="503" cy="337.1" r="7.45"/><circle cx="504.2" cy="332.3" r="7.45"/><circle cx="507.2" cy="328.3" r="7.45"/><circle cx="510.5" cy="322.1" r="7.45"/><circle cx="512" cy="317.4" r="7.45"/><circle cx="514.9" cy="312.2" r="7.45"/><circle cx="517" cy="305.5" r="7.45"/><circle cx="518.6" cy="302" r="7.45"/><circle cx="520.5" cy="298.7" r="7.45"/><circle cx="521.2" cy="293.7" r="7.45"/><circle cx="523.4" cy="288" r="7.45"/><circle cx="525.2" cy="284.1" r="7.45"/><circle cx="526" cy="277.6" r="7.45"/><circle cx="529.7" cy="273.8" r="7.45"/><circle cx="531.8" cy="268" r="7.45"/><circle cx="534.1" cy="264.5" r="7.45"/><circle cx="535.1" cy="258.4" r="7.45"/><circle cx="538" cy="254.2" r="7.45"/><circle cx="540.9" cy="249.7" r="7.45"/><circle cx="544" cy="243.2" r="7.45"/><circle cx="545.2" cy="238.4" r="7.45"/><circle cx="549" cy="232.9" r="7.45"/><circle cx="550.5" cy="229.1" r="7.45"/><circle cx="551.5" cy="225.2" r="7.45"/><circle cx="554.2" cy="219.8" r="7.45"/><circle cx="560" cy="216.3" r="7.45"/><circle cx="564.4" cy="213.5" r="7.45"/><circle cx="568.4" cy="212.5" r="7.45"/><circle cx="572.5" cy="209.2" r="7.45"/><circle cx="575" cy="207.1" r="7.45"/><circle cx="578.7" cy="203.6" r="7.45"/><circle cx="592.4" cy="199.8" r="7.45"/><circle cx="599.4" cy="204.5" r="7.45"/><circle cx="602.3" cy="210.6" r="7.45"/><circle cx="608.6" cy="215" r="7.45"/><circle cx="610.3" cy="221.3" r="7.45"/><circle cx="615.3" cy="226.7" r="7.45"/><circle cx="615.4" cy="230.3" r="7.45"/><circle cx="620.4" cy="235.7" r="7.45"/><circle cx="621.1" cy="239.9" r="7.45"/><circle cx="622.9" cy="242.3" r="7.45"/><circle cx="626.1" cy="247.4" r="7.45"/><circle cx="629.5" cy="250.5" r="7.45"/><circle cx="630.5" cy="257" r="7.45"/><circle cx="634.6" cy="262.8" r="7.45"/><circle cx="637.3" cy="268.2" r="7.45"/><circle cx="640.2" cy="273.4" r="7.45"/><circle cx="641.5" cy="279.7" r="7.45"/><circle cx="644.7" cy="285" r="7.45"/><circle cx="646.9" cy="290.6" r="7.45"/><circle cx="649.6" cy="296.1" r="7.45"/><circle cx="650.3" cy="300.3" r="7.45"/><circle cx="652.4" cy="303.7" r="7.45"/><circle cx="653.5" cy="306.5" r="7.45"/><circle cx="655" cy="310.2" r="7.45"/><circle cx="656.9" cy="314.6" r="7.45"/><circle cx="658.1" cy="320.5" r="7.45"/><circle cx="662" cy="326.4" r="7.45"/><circle cx="664.6" cy="330.8" r="7.45"/><circle cx="666.4" cy="336.8" r="7.45"/><circle cx="669.7" cy="341" r="7.45"/><circle cx="670" cy="344.1" r="7.45"/><circle cx="670.8" cy="350.2" r="7.45"/><circle cx="674.4" cy="354.8" r="7.45"/><circle cx="675.5" cy="362.4" r="7.45"/><circle cx="677.4" cy="368.1" r="7.45"/><circle cx="679.7" cy="372.7" r="7.45"/><circle cx="680.2" cy="376.7" r="7.45"/><circle cx="680.3" cy="381.1" r="7.45"/><circle cx="682.5" cy="386" r="7.45"/><circle cx="684.8" cy="390.3" r="7.45"/><circle cx="686.5" cy="395.7" r="7.45"/><circle cx="689.2" cy="399.9" r="7.45"/><circle cx="692.4" cy="404" r="7.45"/><circle cx="694.2" cy="407.6" r="7.45"/><circle cx="695.6" cy="412.4" r="7.45"/><circle cx="697.7" cy="416.7" r="7.45"/><circle cx="700.3" cy="425.9" r="7.45"/><circle cx="699.9" cy="429.6" r="7.45"/><circle cx="701.2" cy="431.3" r="7.45"/><circle cx="705.5" cy="436.6" r="7.45"/><circle cx="707" cy="444.1" r="7.45"/><circle cx="709.9" cy="446.4" r="7.45"/><circle cx="710.4" cy="450.4" r="7.45"/><circle cx="712.1" cy="452.9" r="7.45"/><circle cx="715.5" cy="451.9" r="7.45"/><circle cx="720.5" cy="455.5" r="7.45"/><circle cx="727.5" cy="461.8" r="7.45"/><circle cx="729.4" cy="466.4" r="7.45"/><circle cx="732.2" cy="469.4" r="7.45"/><circle cx="735.4" cy="472.3" r="7.45"/><circle cx="737.2" cy="474" r="7.45"/><circle cx="738.1" cy="474.3" r="7.45"/><circle cx="738.5" cy="475.7" r="7.45"/><circle cx="739.3" cy="473.6" r="7.45"/><circle cx="747.4" cy="471.1" r="7.45"/><circle cx="752" cy="469.9" r="7.45"/>
<circle cx="238.2" cy="93.4" r="7.45"/><circle cx="124.5" cy="348.5" r="7.45"/><circle cx="121.8" cy="358.3" r="7.45"/><circle cx="382.4" cy="315.4" r="7.45"/><circle cx="400.1" cy="328" r="7.45"/><circle cx="413.6" cy="335.7" r="7.45"/><circle cx="454.3" cy="315" r="7.45"/><circle cx="477.7" cy="264.3" r="7.45"/><circle cx="515.4" cy="147.2" r="7.45"/><circle cx="576.4" cy="63.4" r="7.45"/><circle cx="575.8" cy="107.8" r="7.45"/><circle cx="575.8" cy="119.5" r="7.45"/><circle cx="574.6" cy="126" r="7.45"/><circle cx="595.4" cy="135.6" r="7.45"/><circle cx="611" cy="147.8" r="7.45"/><circle cx="160" cy="292.5" r="7.45"/><circle cx="665.4" cy="242.5" r="7.45"/>
</g>
<g fill="#000">
<polygon points="100.5,143.6 103.6,143.6 106.6,143.3 109.6,142.9 112.4,142.5 115.2,142 117.8,141.6 120.5,142.2 123.1,142.7 125.5,143.2 128,143.7 130.7,144.3 133.3,145.3 136,146.4 138.6,147.5 141.2,148.6 143.8,149.6 146.5,150.6 149.1,151.5 151.5,152.9 153.9,154.6 156.3,156.3 158.7,158 161.3,159.4 164,160.6 166.7,161.8 169.3,163.2 171.7,165 174,166.8 176.4,168.5 179.2,170 181.7,171.3 184.3,172.6 186.8,173.9 188.8,175.8 190.7,177.8 192.7,179.8 194.6,181.7 196.8,183.9 199,185.8 201.2,187.7 203.4,189.6 205.3,191.7 207.1,193.9 209,196.2 210.9,198.5 212.9,201 215.2,203.1 217.3,205 219.5,207 221.7,208.9 223.5,211 225,213.3 226.5,215.6 228.1,218 229.9,220.6 231.6,223.2 233.5,225.7 235.6,228 237.7,230.3 239.8,232.6 241.8,234.8 243.7,237 245.5,239.3 247.3,241.6 249.2,243.9 251.1,246.2 252.9,248.6 254.8,250.9 256.6,253.1 258.4,255.4 260,257.8 261.6,260.3 263.3,262.7 264.9,265.1 266.6,267.7 268.3,270.2 270,272.7 271.8,275.1 273.5,277.6 275.3,280 277,282.4 278.7,284.9 280.3,287.3 282,289.8 283.6,292.2 285.3,294.7 286.9,297.2 288.6,299.7 290.2,302.2 291.8,304.7 293.5,307.4 295.2,310.1 297,312.8 299,315.3 301.2,317.6 303.5,319.8 305.7,322 307.7,324.1 309.8,326.3 311.7,328.6 313.7,330.8 315.7,333 317.9,335.2 319.9,337.3 322,339.3 324,341.3 325.8,343.5 327.5,345.8 329.1,348.1 330.8,350.5 332.6,352.9 334.3,355.4 336.2,357.8 338,360.2 340,362.8 341.9,365.3 343.9,367.8 345.9,370.2 348.3,372.3 350.6,374.5 353,376.6 355.2,378.6 357.5,380.6 359.7,382.6 362,384.6 364.2,386.7 366.5,388.7 368.8,390.6 371.1,392.6 373.6,394.7 376,396.7 378.4,398.8 381,400.4 383.8,401.9 386.5,403.5 389.2,405 391.8,406.8 394.5,408.6 397.1,410.3 400.1,411.6 403.2,412.6 406.3,413.6 409.6,414.6 412.6,415.6 415.7,416.5 418.8,417.5 422.1,417.9 425.3,418.3 428.6,418.6 431.7,418.6 434.8,418.6 437.9,418.6 441.1,418.6 444.3,418.6 447.4,418.6 450.5,418.1 453.6,417.6 457,417 460.3,416.4 463.5,415.9 466.8,414.6 470,413.1 473.2,411.6 476.3,409.9 478.8,407.8 481.3,405.5 483.8,403.2 486.1,401.2 488.3,398.9 490.2,396.8 492.1,394.6 494,392.5 495.9,390.6 498.2,389.1 500.5,387.6 502.8,386.1 505.3,384.5 507.8,382.9 510.5,381.3 513.2,379.6 516,377.9 518.4,375.8 520.7,373.6 523.1,371.3 525.4,368.9 527.6,366.7 529.6,364.4 531.6,362 533.5,359.7 535.5,357.3 537.4,355 539.4,352.7 541.3,350.4 543.2,348.1 545,345.9 546.9,343.6 548.8,341.5 550.9,339.4 553.1,337.2 555.4,334.9 557.7,332.6 559.4,329.9 561.1,327.1 562.7,324.3 564.2,321.6 565.6,319.1 566.9,316.6 568.6,314.4 570.4,312.2 572.1,310.2 573.7,308.2 575.5,306.1 577.5,304.1 579.7,302.5 582.3,300.6 584.9,298.7 587.6,296.6 589.4,293.7 591,290.6 592.5,287.7 594,284.7 595.3,282.2 596.8,279.8 598.5,277.4 600.2,275 601.8,272.6 603.5,270 605.1,267.4 606.7,264.9 608.3,262.3 609.8,259.8 611.4,257.3 613.1,254.8 614.7,252.4 616.3,249.9 618,247.4 619.7,245 621.4,242.5 623.1,240.1 624.7,237.6 626.4,235.2 628.2,232.8 629.9,230.4 631.7,228 633.2,225.8 634.8,223.6 636.4,221.4 638.1,219.4 640.5,217.8 642.8,216.1 645.2,214.5 647.7,212.5 649.9,210.2 652.1,207.9 654.3,205.6 656.4,203.4 658.4,201.2 660.5,199 662.6,196.8 664.6,194.5 666.5,192.4 668.4,190.3 670.3,188.2 672.3,186.2 674.6,184.5 676.8,182.8 679,181.1 681.4,179.2 683.8,177.4 686.2,175.6 688.6,173.8 691.1,172 693.6,170.1 696.1,168.2 698.3,166 700.2,164.1 702,162.2 703.8,160.3 705.7,158.7 708.2,158.1 710.7,157.4 713.2,156.8 716.1,155.9 719,154.9 722.2,153.7 725.4,152.5 728.5,151.4 731,150.1 733.1,148.2 735.2,146.4 737.9,145.8 740.3,145.6 742.6,145.3 744.9,145 747.8,144.6 750.7,144.6 752.2,144.6 753.7,187.6 753,187.5 750.2,186.9 747.5,186 744.4,184.7 741.4,183.4 738.3,182.1 734.5,182.3 730.6,182.8 726.7,183.4 723.1,184.7 720.1,186.5 717.2,188.2 714.3,189.9 711.5,191.7 708.7,193.6 706,195.5 703.3,197.4 701.2,200 699.4,202.2 697.6,204.5 696,206.6 693.8,207.8 691.4,209 689,210.2 686.5,211.4 683.8,212.8 680.9,214.7 678,216.6 675.1,218.5 672.2,220.4 670.3,223.2 668.4,226 666.5,228.8 665,231.1 663.5,233.4 662.1,235.6 659.9,237.3 657.5,239.2 655.1,241.2 652.7,243.2 650.8,246 649.2,249 647.7,251.9 646.2,254.9 644.9,257.5 643.5,260 642,262.4 640.5,264.8 638.9,267.2 637.2,269.5 635.6,271.7 634,273.9 632.4,276.1 630.3,278 628,279.8 625.8,281.7 623.8,283.5 621.7,285.7 619.7,287.9 617.5,289.9 615.2,291.7 612.9,293.5 610.6,295.3 608.3,297.3 606,299.4 603.7,301.5 601.3,303.7 599,305.9 596.6,308.2 594.4,310.6 592.5,313.4 590.7,316.1 589.2,319 587.8,321.7 586.5,324.3 584.8,327 583.1,329.4 581.5,331.9 579.9,334.5 578.5,337.2 577.1,340 575.8,342.7 574.5,345.1 573.1,347.5 571.8,349.9 570,352 568.2,354 566.4,355.9 564.6,357.9 562.4,360.1 560.1,362.1 557.7,364 555.7,366.4 553.8,369 552.2,371.1 550.6,373.3 549.2,375.4 546.7,376.6 544,377.6 541.3,378.6 539.3,380.5 536.8,382.9 534.4,385.3 532,387.7 529.9,389.8 527.6,392 525.4,394.3 523.1,396.6 521.1,399 519.2,401.8 517.4,404.5 515.6,407.3 513.9,409.9 512.6,412.8 511.2,415.6 510.1,418 509,420.4 507.9,422.7 506.4,424.6 504.6,425.9 503,427.2 501.4,428.6 499.2,429.6 496.7,430 494.2,430.4 491.4,430.8 488.2,431.4 485,432 482,433.1 478.8,434.5 475.6,436 472.4,437.5 469.6,439.1 467.1,441.2 465,443.1 462.8,445.1 460.9,446.8 458.8,448.4 456.3,449.1 453.8,449.9 451.4,450.6 448.8,451.5 446.1,452.4 443.3,452.8 440.2,453.3 437.2,453.7 434.1,454.1 432.1,455 430.1,456.1 428.2,457.4 426.8,457.2 425.9,455.7 424.7,454.3 423.2,452.4 421,449.7 418.9,447 416.3,445 412.9,443.9 409.5,442.7 406.1,441.7 403.3,440.8 400.4,439.9 397.5,438.9 394.6,437.9 391.7,436.9 388.8,436.2 385.9,435.6 383,434.9 380.6,434.2 378.3,433.5 376.1,432.8 373.9,432.1 372.4,430.1 370.9,428.1 369.4,426.1 367.5,423.8 365.6,421.4 363.7,419.1 361.7,416.8 359.8,414.5 357.9,412.2 356,409.9 354.2,407.6 352.4,405.2 350.5,402.9 348.7,400.5 346.8,398.1 345,395.7 343,393.3 341.1,391 338.9,388.4 336.7,385.8 334.5,383.2 331.6,381.5 328.8,380.1 326,378.7 323.2,377.3 320.9,375.8 318.9,374 316.8,372 314.7,370.1 312.3,368 309.8,366.2 307.7,364.8 305.5,363.3 303.3,361.9 302.3,359.7 301.4,357.4 300.4,355 299.4,352.5 298.1,349.6 296.5,346.9 294.8,344.2 293.1,341.5 291.4,338.8 289.7,336.2 288,333.6 286.1,331.2 284.2,328.8 282.4,326.4 280.6,324 278.8,321.7 277.1,319.3 275.5,316.9 273.9,314.4 272.1,311.7 270.2,309 268.4,306.3 266,304 263.5,302 261.1,300 258.6,298 256.4,296.1 254.4,294.1 252.3,292 250.2,289.9 248.1,287.7 245.8,285.7 243.8,283.9 241.8,282 239.7,280.3 237.9,278.3 236.7,276 235.4,273.6 234.2,271.1 232.7,268.4 231.2,265.7 229.6,263 227.9,260.5 226,257.7 224.1,254.9 222.3,252.1 219.9,249.9 217.4,247.9 214.9,245.9 212.5,243.9 210.3,242 208.3,239.9 206.1,237.8 203.9,235.6 201.6,233.3 199.2,231.6 196.6,229.8 194.1,228.1 191.6,226.4 189.3,224.4 187.1,222.4 184.9,220.5 182.4,218.6 180.1,217 177.8,215.4 175.5,213.9 173.7,211.9 171.9,209.5 170.2,207.2 168.5,204.8 166.5,202.2 163.8,200 161.1,197.9 158.3,195.8 155.7,194 152.9,192.6 150,191.1 147.2,189.7 144.5,188.4 141.6,186.9 138.7,185.5 135.8,184.1 132.7,183.2 128.9,182.3 125.1,181.5 121.1,180.9 117.8,181.1 114.7,182.8 111.6,184.6 108.6,186.2 106.1,187.2 103.5,188.2 100.9,189 98,189.7"/><circle cx="105.3" cy="140.4" r="4.7"/><circle cx="114.4" cy="139.4" r="4.7"/><circle cx="121.2" cy="139.6" r="4.7"/><circle cx="132.1" cy="142.6" r="4.7"/><circle cx="137.5" cy="144.3" r="4.7"/><circle cx="143.3" cy="146" r="4.7"/><circle cx="154.8" cy="152.2" r="4.7"/><circle cx="168.4" cy="159.6" r="4.7"/><circle cx="172.3" cy="161.9" r="4.7"/><circle cx="181.3" cy="168.9" r="4.7"/><circle cx="193.5" cy="176.9" r="4.7"/><circle cx="201.3" cy="183.5" r="4.7"/><circle cx="209.3" cy="191.7" r="4.7"/><circle cx="213.3" cy="196.2" r="4.7"/><circle cx="217" cy="201.5" r="4.7"/><circle cx="221.2" cy="206" r="4.7"/><circle cx="225" cy="209.5" r="4.7"/><circle cx="229.8" cy="214.3" r="4.7"/><circle cx="237.4" cy="225.4" r="4.7"/><circle cx="246" cy="235" r="4.7"/><circle cx="249.1" cy="240.2" r="4.7"/><circle cx="256.5" cy="249.6" r="4.7"/><circle cx="264.8" cy="259.1" r="4.7"/><circle cx="270.8" cy="269.7" r="4.7"/><circle cx="276.3" cy="278.1" r="4.7"/><circle cx="280.9" cy="284.6" r="4.7"/><circle cx="289.2" cy="294.5" r="4.7"/><circle cx="291.2" cy="299.2" r="4.7"/><circle cx="299.5" cy="310.7" r="4.7"/><circle cx="305.3" cy="318.3" r="4.7"/><circle cx="309.9" cy="323.3" r="4.7"/><circle cx="317.4" cy="330" r="4.7"/><circle cx="323.3" cy="337" r="4.7"/><circle cx="329.2" cy="344.2" r="4.7"/><circle cx="333.2" cy="350" r="4.7"/><circle cx="338.7" cy="357.2" r="4.7"/><circle cx="346.5" cy="366.7" r="4.7"/><circle cx="353" cy="373.6" r="4.7"/><circle cx="364.2" cy="383.6" r="4.7"/><circle cx="373.1" cy="390.3" r="4.7"/><circle cx="377" cy="395.1" r="4.7"/><circle cx="388.6" cy="402.2" r="4.7"/><circle cx="396.3" cy="406.8" r="4.7"/><circle cx="411" cy="412.8" r="4.7"/><circle cx="423.5" cy="415.1" r="4.7"/><circle cx="432.9" cy="416.5" r="4.7"/><circle cx="442.9" cy="416.2" r="4.7"/><circle cx="454.6" cy="415.3" r="4.7"/><circle cx="468.7" cy="410.5" r="4.7"/><circle cx="473.7" cy="408.1" r="4.7"/><circle cx="482" cy="401.5" r="4.7"/><circle cx="492.2" cy="391.5" r="4.7"/><circle cx="495.3" cy="388.4" r="4.7"/><circle cx="506.7" cy="381.2" r="4.7"/><circle cx="515.8" cy="374.2" r="4.7"/><circle cx="527.4" cy="363.7" r="4.7"/><circle cx="535.2" cy="354.4" r="4.7"/><circle cx="540.1" cy="346.7" r="4.7"/><circle cx="547.9" cy="339.3" r="4.7"/><circle cx="552.7" cy="334.4" r="4.7"/><circle cx="561.1" cy="320.8" r="4.7"/><circle cx="567.8" cy="311.6" r="4.7"/><circle cx="573.4" cy="303.8" r="4.7"/><circle cx="579.6" cy="299.8" r="4.7"/><circle cx="589.5" cy="287.8" r="4.7"/><circle cx="592.5" cy="282.8" r="4.7"/><circle cx="598.7" cy="271.8" r="4.7"/><circle cx="605.5" cy="262.9" r="4.7"/><circle cx="613.1" cy="250.1" r="4.7"/><circle cx="618.7" cy="241.9" r="4.7"/><circle cx="622.2" cy="235.8" r="4.7"/><circle cx="627.4" cy="229.8" r="4.7"/><circle cx="632.6" cy="222.5" r="4.7"/><circle cx="637.7" cy="216.5" r="4.7"/><circle cx="643" cy="212" r="4.7"/><circle cx="655" cy="200.7" r="4.7"/><circle cx="659.4" cy="196.6" r="4.7"/><circle cx="668.2" cy="185.8" r="4.7"/><circle cx="676.5" cy="179.4" r="4.7"/><circle cx="684.9" cy="172.3" r="4.7"/><circle cx="689.8" cy="170.5" r="4.7"/><circle cx="701" cy="159.6" r="4.7"/><circle cx="708.3" cy="155" r="4.7"/><circle cx="721.1" cy="151.2" r="4.7"/><circle cx="735.1" cy="144" r="4.7"/><circle cx="746.7" cy="142.7" r="4.7"/><circle cx="100.2" cy="143" r="4.7"/><circle cx="102.4" cy="142.8" r="4.7"/><circle cx="105.6" cy="143.7" r="4.7"/><circle cx="109.9" cy="142.8" r="4.7"/><circle cx="115" cy="143.1" r="4.7"/><circle cx="117.1" cy="142.1" r="4.7"/><circle cx="119.3" cy="141.2" r="4.7"/><circle cx="123.5" cy="142.4" r="4.7"/><circle cx="127.3" cy="144" r="4.7"/><circle cx="130.6" cy="144.7" r="4.7"/><circle cx="133.9" cy="145.5" r="4.7"/><circle cx="135.2" cy="147.3" r="4.7"/><circle cx="140.5" cy="147.7" r="4.7"/><circle cx="143.3" cy="148.9" r="4.7"/><circle cx="145.6" cy="151.3" r="4.7"/><circle cx="148.7" cy="152.3" r="4.7"/><circle cx="150.8" cy="153.4" r="4.7"/><circle cx="153.9" cy="155.2" r="4.7"/><circle cx="159.1" cy="157.2" r="4.7"/><circle cx="161.3" cy="160.2" r="4.7"/><circle cx="165.4" cy="161.8" r="4.7"/><circle cx="167.8" cy="162.7" r="4.7"/><circle cx="171.8" cy="164.1" r="4.7"/><circle cx="174" cy="166.2" r="4.7"/><circle cx="175.5" cy="167.9" r="4.7"/><circle cx="178.6" cy="169.2" r="4.7"/><circle cx="181.1" cy="171.6" r="4.7"/><circle cx="182.9" cy="172.6" r="4.7"/><circle cx="185.9" cy="172.4" r="4.7"/><circle cx="188.8" cy="175.2" r="4.7"/><circle cx="190.3" cy="178.7" r="4.7"/><circle cx="195" cy="181.2" r="4.7"/><circle cx="198.1" cy="184" r="4.7"/><circle cx="200.1" cy="187.9" r="4.7"/><circle cx="203.4" cy="189.6" r="4.7"/><circle cx="204.5" cy="192.1" r="4.7"/><circle cx="207.2" cy="194.7" r="4.7"/><circle cx="209.8" cy="196.4" r="4.7"/><circle cx="210.3" cy="198.8" r="4.7"/><circle cx="214.2" cy="201.3" r="4.7"/><circle cx="217.2" cy="204.4" r="4.7"/><circle cx="220.4" cy="206.9" r="4.7"/><circle cx="221.2" cy="209.6" r="4.7"/><circle cx="223.9" cy="210.4" r="4.7"/><circle cx="225" cy="212.7" r="4.7"/><circle cx="228.1" cy="216.6" r="4.7"/><circle cx="231.1" cy="220.8" r="4.7"/><circle cx="233.2" cy="226.1" r="4.7"/><circle cx="235" cy="227.5" r="4.7"/><circle cx="237.5" cy="229.4" r="4.7"/><circle cx="239.3" cy="231.8" r="4.7"/><circle cx="241.5" cy="236.3" r="4.7"/><circle cx="246" cy="238.7" r="4.7"/><circle cx="246.5" cy="242.2" r="4.7"/><circle cx="248.1" cy="243.5" r="4.7"/><circle cx="249.5" cy="246.2" r="4.7"/><circle cx="251.7" cy="248.3" r="4.7"/><circle cx="254.7" cy="249.7" r="4.7"/><circle cx="254.8" cy="252.2" r="4.7"/><circle cx="258.3" cy="254.3" r="4.7"/><circle cx="258.6" cy="257.5" r="4.7"/><circle cx="260.8" cy="259.4" r="4.7"/><circle cx="263.2" cy="261.5" r="4.7"/><circle cx="264.4" cy="265.4" r="4.7"/><circle cx="267.2" cy="267.2" r="4.7"/><circle cx="268" cy="270.4" r="4.7"/><circle cx="270.4" cy="272.5" r="4.7"/><circle cx="271.5" cy="275.4" r="4.7"/><circle cx="273.5" cy="278.9" r="4.7"/><circle cx="276.9" cy="281.3" r="4.7"/><circle cx="277.7" cy="284.4" r="4.7"/><circle cx="279.3" cy="286.8" r="4.7"/><circle cx="280.2" cy="288.5" r="4.7"/><circle cx="282.4" cy="291.9" r="4.7"/><circle cx="285.2" cy="294.8" r="4.7"/><circle cx="286.1" cy="297.8" r="4.7"/><circle cx="287.8" cy="300.2" r="4.7"/><circle cx="290.7" cy="301.9" r="4.7"/><circle cx="293" cy="306.3" r="4.7"/><circle cx="294.1" cy="308" r="4.7"/><circle cx="297.1" cy="311.1" r="4.7"/><circle cx="299.1" cy="315.4" r="4.7"/><circle cx="302" cy="317.3" r="4.7"/><circle cx="304.5" cy="321.9" r="4.7"/><circle cx="308" cy="323.9" r="4.7"/><circle cx="310.4" cy="326.8" r="4.7"/><circle cx="313.6" cy="329.3" r="4.7"/><circle cx="315.7" cy="334.5" r="4.7"/><circle cx="319.3" cy="336.8" r="4.7"/><circle cx="321.4" cy="339" r="4.7"/><circle cx="322.6" cy="341.6" r="4.7"/><circle cx="325.7" cy="342.3" r="4.7"/><circle cx="326.6" cy="343.9" r="4.7"/><circle cx="329.8" cy="347.5" r="4.7"/><circle cx="329.8" cy="350" r="4.7"/><circle cx="332.7" cy="351.5" r="4.7"/><circle cx="334.1" cy="355.6" r="4.7"/><circle cx="335.8" cy="358.2" r="4.7"/><circle cx="337.3" cy="360.8" r="4.7"/><circle cx="341.2" cy="362.9" r="4.7"/><circle cx="342.3" cy="365.9" r="4.7"/><circle cx="344.7" cy="368.3" r="4.7"/><circle cx="346.8" cy="370.9" r="4.7"/><circle cx="349.1" cy="373.5" r="4.7"/><circle cx="352.7" cy="375.4" r="4.7"/><circle cx="354.8" cy="379.1" r="4.7"/><circle cx="356.9" cy="381.2" r="4.7"/><circle cx="361.3" cy="383.8" r="4.7"/><circle cx="362.9" cy="386.6" r="4.7"/><circle cx="366.6" cy="388.6" r="4.7"/><circle cx="369.2" cy="391.9" r="4.7"/><circle cx="372.2" cy="392.9" r="4.7"/><circle cx="375" cy="395.8" r="4.7"/><circle cx="378" cy="399.4" r="4.7"/><circle cx="382.9" cy="402.4" r="4.7"/><circle cx="388" cy="403.3" r="4.7"/><circle cx="389.4" cy="406.5" r="4.7"/><circle cx="394.2" cy="407.9" r="4.7"/><circle cx="396.8" cy="410.6" r="4.7"/><circle cx="401.4" cy="412.2" r="4.7"/><circle cx="403.8" cy="412.7" r="4.7"/><circle cx="407.8" cy="413.1" r="4.7"/><circle cx="409.1" cy="415.6" r="4.7"/><circle cx="414" cy="417.1" r="4.7"/><circle cx="418.5" cy="418.2" r="4.7"/><circle cx="423" cy="419" r="4.7"/><circle cx="426.4" cy="418.9" r="4.7"/><circle cx="429.7" cy="419.1" r="4.7"/><circle cx="432.9" cy="418.8" r="4.7"/><circle cx="436.9" cy="419" r="4.7"/><circle cx="439.9" cy="418.7" r="4.7"/><circle cx="444.1" cy="419.7" r="4.7"/><circle cx="447.4" cy="418.3" r="4.7"/><circle cx="451.8" cy="417.2" r="4.7"/><circle cx="456.1" cy="418.3" r="4.7"/><circle cx="458.8" cy="416.3" r="4.7"/><circle cx="463.6" cy="416.1" r="4.7"/><circle cx="466.6" cy="413.9" r="4.7"/><circle cx="468.9" cy="413.3" r="4.7"/><circle cx="472.9" cy="411.4" r="4.7"/><circle cx="474.9" cy="410" r="4.7"/><circle cx="479.6" cy="408.2" r="4.7"/><circle cx="482.4" cy="404.9" r="4.7"/><circle cx="484.9" cy="401.5" r="4.7"/><circle cx="488.4" cy="398.8" r="4.7"/><circle cx="491.4" cy="396" r="4.7"/><circle cx="492.9" cy="393.3" r="4.7"/><circle cx="494.4" cy="391.3" r="4.7"/><circle cx="497.2" cy="389.6" r="4.7"/><circle cx="499.8" cy="386.9" r="4.7"/><circle cx="503.3" cy="386.8" r="4.7"/><circle cx="505.4" cy="384.7" r="4.7"/><circle cx="508.4" cy="382.1" r="4.7"/><circle cx="511.8" cy="380.1" r="4.7"/><circle cx="516.4" cy="376.8" r="4.7"/><circle cx="519.1" cy="376.4" r="4.7"/><circle cx="521.1" cy="372" r="4.7"/><circle cx="523.9" cy="370.4" r="4.7"/><circle cx="526.3" cy="367" r="4.7"/><circle cx="529.8" cy="365.9" r="4.7"/><circle cx="531.2" cy="361.5" r="4.7"/><circle cx="533.4" cy="359.4" r="4.7"/><circle cx="537.1" cy="356" r="4.7"/><circle cx="540" cy="353.2" r="4.7"/><circle cx="542.4" cy="350" r="4.7"/><circle cx="545" cy="347" r="4.7"/><circle cx="546.9" cy="344.8" r="4.7"/><circle cx="550.2" cy="341.6" r="4.7"/><circle cx="551.4" cy="340.2" r="4.7"/><circle cx="553.4" cy="337.9" r="4.7"/><circle cx="555.2" cy="335.2" r="4.7"/><circle cx="559.3" cy="330.8" r="4.7"/><circle cx="561.5" cy="327.9" r="4.7"/><circle cx="563.6" cy="323.3" r="4.7"/><circle cx="564.8" cy="320.5" r="4.7"/><circle cx="567.1" cy="317.6" r="4.7"/><circle cx="567.9" cy="315" r="4.7"/><circle cx="570.1" cy="312.4" r="4.7"/><circle cx="572.7" cy="310.6" r="4.7"/><circle cx="574.6" cy="307.3" r="4.7"/><circle cx="576.3" cy="304.3" r="4.7"/><circle cx="578.3" cy="302.8" r="4.7"/><circle cx="581.9" cy="301.3" r="4.7"/><circle cx="584" cy="300.7" r="4.7"/><circle cx="587.2" cy="298" r="4.7"/><circle cx="591.4" cy="292.5" r="4.7"/><circle cx="591.8" cy="288.9" r="4.7"/><circle cx="592.8" cy="285" r="4.7"/><circle cx="595.1" cy="283.1" r="4.7"/><circle cx="597" cy="281.2" r="4.7"/><circle cx="599" cy="277" r="4.7"/><circle cx="601.3" cy="273.6" r="4.7"/><circle cx="603.9" cy="270.3" r="4.7"/><circle cx="605" cy="267.2" r="4.7"/><circle cx="607.1" cy="263.8" r="4.7"/><circle cx="610.2" cy="260" r="4.7"/><circle cx="611.3" cy="256.1" r="4.7"/><circle cx="613.5" cy="254" r="4.7"/><circle cx="616" cy="250.9" r="4.7"/><circle cx="618.9" cy="248.1" r="4.7"/><circle cx="620.2" cy="244.2" r="4.7"/><circle cx="623.5" cy="241.6" r="4.7"/><circle cx="624.3" cy="238.5" r="4.7"/><circle cx="625.9" cy="234.8" r="4.7"/><circle cx="629.7" cy="232.7" r="4.7"/><circle cx="631.2" cy="228.9" r="4.7"/><circle cx="633.6" cy="227" r="4.7"/><circle cx="635.9" cy="223.6" r="4.7"/><circle cx="637.8" cy="221.1" r="4.7"/><circle cx="639" cy="218" r="4.7"/><circle cx="641.5" cy="217.2" r="4.7"/><circle cx="644.6" cy="214.2" r="4.7"/><circle cx="647.1" cy="213.6" r="4.7"/><circle cx="650" cy="209.9" r="4.7"/><circle cx="653.9" cy="206.6" r="4.7"/><circle cx="654.9" cy="204.8" r="4.7"/><circle cx="658.2" cy="201" r="4.7"/><circle cx="660.5" cy="197.6" r="4.7"/><circle cx="663.9" cy="196.6" r="4.7"/><circle cx="666.3" cy="193.3" r="4.7"/><circle cx="668.1" cy="190.8" r="4.7"/><circle cx="669.5" cy="188.5" r="4.7"/><circle cx="672.3" cy="186.4" r="4.7"/><circle cx="676" cy="183.7" r="4.7"/><circle cx="678.6" cy="180.5" r="4.7"/><circle cx="681" cy="180.4" r="4.7"/><circle cx="682.5" cy="177.4" r="4.7"/><circle cx="685.5" cy="176.3" r="4.7"/><circle cx="688.8" cy="174.1" r="4.7"/><circle cx="691.2" cy="170.8" r="4.7"/><circle cx="694.7" cy="170.1" r="4.7"/><circle cx="697.3" cy="167.9" r="4.7"/><circle cx="698.8" cy="164.7" r="4.7"/><circle cx="700.9" cy="162.4" r="4.7"/><circle cx="704.6" cy="160.1" r="4.7"/><circle cx="705.7" cy="158.6" r="4.7"/><circle cx="707.3" cy="157.5" r="4.7"/><circle cx="712.2" cy="157.3" r="4.7"/><circle cx="717.2" cy="155.5" r="4.7"/><circle cx="720.9" cy="153.7" r="4.7"/><circle cx="723.3" cy="154.4" r="4.7"/><circle cx="728.2" cy="151.2" r="4.7"/><circle cx="733.1" cy="149.5" r="4.7"/><circle cx="734.9" cy="147.4" r="4.7"/><circle cx="737.2" cy="146.1" r="4.7"/><circle cx="741.3" cy="145" r="4.7"/><circle cx="744.3" cy="145.6" r="4.7"/><circle cx="746.9" cy="144.4" r="4.7"/><circle cx="751.4" cy="144.7" r="4.7"/><circle cx="101" cy="192.2" r="4.7"/><circle cx="109" cy="189.4" r="4.7"/><circle cx="125.6" cy="184.6" r="4.7"/><circle cx="136.6" cy="188.1" r="4.7"/><circle cx="146.8" cy="192.7" r="4.7"/><circle cx="154.9" cy="197.3" r="4.7"/><circle cx="161.4" cy="200.9" r="4.7"/><circle cx="167.1" cy="207.9" r="4.7"/><circle cx="171.6" cy="214.1" r="4.7"/><circle cx="176.1" cy="218.3" r="4.7"/><circle cx="186.9" cy="226.1" r="4.7"/><circle cx="192.4" cy="229.8" r="4.7"/><circle cx="197.1" cy="233.7" r="4.7"/><circle cx="207.5" cy="243.7" r="4.7"/><circle cx="215.6" cy="249.1" r="4.7"/><circle cx="224.1" cy="260.4" r="4.7"/><circle cx="229.8" cy="267.8" r="4.7"/><circle cx="234.8" cy="276.6" r="4.7"/><circle cx="238" cy="281.3" r="4.7"/><circle cx="245.2" cy="289.2" r="4.7"/><circle cx="252.3" cy="296.5" r="4.7"/><circle cx="261.2" cy="303.9" r="4.7"/><circle cx="271.8" cy="315.9" r="4.7"/><circle cx="276.3" cy="323.5" r="4.7"/><circle cx="283.6" cy="333" r="4.7"/><circle cx="291.4" cy="344.9" r="4.7"/><circle cx="297.5" cy="354.7" r="4.7"/><circle cx="300.8" cy="361.5" r="4.7"/><circle cx="305.7" cy="366.3" r="4.7"/><circle cx="314.4" cy="373.8" r="4.7"/><circle cx="321.4" cy="380" r="4.7"/><circle cx="327.9" cy="381.9" r="4.7"/><circle cx="335.3" cy="387.8" r="4.7"/><circle cx="339.8" cy="393.4" r="4.7"/><circle cx="345.4" cy="400.6" r="4.7"/><circle cx="349.8" cy="407.3" r="4.7"/><circle cx="355.5" cy="414.1" r="4.7"/><circle cx="359.9" cy="418.2" r="4.7"/><circle cx="365.3" cy="425.5" r="4.7"/><circle cx="373.8" cy="434.3" r="4.7"/><circle cx="387" cy="438" r="4.7"/><circle cx="392.8" cy="440.5" r="4.7"/><circle cx="398.8" cy="441.8" r="4.7"/><circle cx="410" cy="445.9" r="4.7"/><circle cx="420.2" cy="452.2" r="4.7"/><circle cx="426.3" cy="460.2" r="4.7"/><circle cx="438.1" cy="456.4" r="4.7"/><circle cx="448.6" cy="454.8" r="4.7"/><circle cx="454.8" cy="451.7" r="4.7"/><circle cx="464.5" cy="446.6" r="4.7"/><circle cx="469.8" cy="443.3" r="4.7"/><circle cx="475.3" cy="439.6" r="4.7"/><circle cx="483.7" cy="435.4" r="4.7"/><circle cx="490.2" cy="434" r="4.7"/><circle cx="501.3" cy="432.4" r="4.7"/><circle cx="509.9" cy="424.4" r="4.7"/><circle cx="515.2" cy="414.3" r="4.7"/><circle cx="520" cy="404.9" r="4.7"/><circle cx="526.5" cy="398" r="4.7"/><circle cx="535.7" cy="387.1" r="4.7"/><circle cx="542.6" cy="381.9" r="4.7"/><circle cx="553.1" cy="374" r="4.7"/><circle cx="556.5" cy="370.3" r="4.7"/><circle cx="561.1" cy="364.1" r="4.7"/><circle cx="566" cy="359.4" r="4.7"/><circle cx="574.9" cy="350.9" r="4.7"/><circle cx="580.4" cy="339.6" r="4.7"/><circle cx="586.8" cy="327.9" r="4.7"/><circle cx="591.4" cy="321.7" r="4.7"/><circle cx="600.4" cy="308.3" r="4.7"/><circle cx="611.3" cy="297.7" r="4.7"/><circle cx="621" cy="289.6" r="4.7"/><circle cx="630.3" cy="281.4" r="4.7"/><circle cx="634.2" cy="277.7" r="4.7"/><circle cx="640" cy="270.2" r="4.7"/><circle cx="648.1" cy="258.2" r="4.7"/><circle cx="654.3" cy="246.2" r="4.7"/><circle cx="663.7" cy="237.1" r="4.7"/><circle cx="668.1" cy="231.1" r="4.7"/><circle cx="679" cy="218.8" r="4.7"/><circle cx="689" cy="213.5" r="4.7"/><circle cx="694.3" cy="210.7" r="4.7"/><circle cx="700.1" cy="206.3" r="4.7"/><circle cx="706.4" cy="199" r="4.7"/><circle cx="717.3" cy="190.9" r="4.7"/><circle cx="724.1" cy="187.6" r="4.7"/><circle cx="736.6" cy="184.8" r="4.7"/><circle cx="751" cy="190" r="4.7"/><circle cx="101.2" cy="189.6" r="4.7"/><circle cx="103.8" cy="188.3" r="4.7"/><circle cx="107.6" cy="186.4" r="4.7"/><circle cx="111" cy="185.6" r="4.7"/><circle cx="114.2" cy="182.5" r="4.7"/><circle cx="120" cy="180" r="4.7"/><circle cx="126.1" cy="182.4" r="4.7"/><circle cx="129.1" cy="182.5" r="4.7"/><circle cx="132.2" cy="183.9" r="4.7"/><circle cx="135.6" cy="184.6" r="4.7"/><circle cx="140" cy="186.1" r="4.7"/><circle cx="142.6" cy="187.7" r="4.7"/><circle cx="145.3" cy="189" r="4.7"/><circle cx="147.7" cy="190.9" r="4.7"/><circle cx="150.4" cy="190" r="4.7"/><circle cx="154.3" cy="194.2" r="4.7"/><circle cx="159.2" cy="195" r="4.7"/><circle cx="161.5" cy="199.2" r="4.7"/><circle cx="164.6" cy="200.7" r="4.7"/><circle cx="167.4" cy="203" r="4.7"/><circle cx="169.5" cy="204.4" r="4.7"/><circle cx="171.6" cy="208.4" r="4.7"/><circle cx="174.1" cy="211.8" r="4.7"/><circle cx="175" cy="214.1" r="4.7"/><circle cx="176.7" cy="215.8" r="4.7"/><circle cx="181" cy="216.6" r="4.7"/><circle cx="182.8" cy="219.6" r="4.7"/><circle cx="187" cy="221.2" r="4.7"/><circle cx="189.8" cy="225.7" r="4.7"/><circle cx="193.5" cy="226.8" r="4.7"/><circle cx="196" cy="229.7" r="4.7"/><circle cx="199.3" cy="230.7" r="4.7"/><circle cx="201.5" cy="233.5" r="4.7"/><circle cx="204.7" cy="236.7" r="4.7"/><circle cx="207.4" cy="239.7" r="4.7"/><circle cx="209.9" cy="241.2" r="4.7"/><circle cx="212.9" cy="243.3" r="4.7"/><circle cx="216" cy="245.4" r="4.7"/><circle cx="218.7" cy="248.8" r="4.7"/><circle cx="221.8" cy="252.5" r="4.7"/><circle cx="224.6" cy="255" r="4.7"/><circle cx="226.6" cy="257.5" r="4.7"/><circle cx="227.2" cy="259.5" r="4.7"/><circle cx="229.5" cy="264.3" r="4.7"/><circle cx="231.7" cy="266.7" r="4.7"/><circle cx="233.8" cy="269.2" r="4.7"/><circle cx="234.9" cy="270.8" r="4.7"/><circle cx="236.7" cy="274.4" r="4.7"/><circle cx="237.3" cy="277.8" r="4.7"/><circle cx="239.5" cy="279.8" r="4.7"/><circle cx="241.1" cy="281.7" r="4.7"/><circle cx="244.5" cy="283.9" r="4.7"/><circle cx="248" cy="286.3" r="4.7"/><circle cx="249.3" cy="289.4" r="4.7"/><circle cx="251.9" cy="291.2" r="4.7"/><circle cx="253.4" cy="293.9" r="4.7"/><circle cx="255.6" cy="295.7" r="4.7"/><circle cx="259.3" cy="297.1" r="4.7"/><circle cx="262" cy="299.6" r="4.7"/><circle cx="266.5" cy="302.9" r="4.7"/><circle cx="269.7" cy="306.8" r="4.7"/><circle cx="270.9" cy="309" r="4.7"/><circle cx="272.5" cy="313" r="4.7"/><circle cx="275.9" cy="315.5" r="4.7"/><circle cx="277.5" cy="319.1" r="4.7"/><circle cx="278.6" cy="321.9" r="4.7"/><circle cx="280.4" cy="325.3" r="4.7"/><circle cx="283.3" cy="326.8" r="4.7"/><circle cx="284.1" cy="330" r="4.7"/><circle cx="287.8" cy="333.8" r="4.7"/><circle cx="289.7" cy="336.3" r="4.7"/><circle cx="292.2" cy="339.6" r="4.7"/><circle cx="293" cy="342.7" r="4.7"/><circle cx="296" cy="344.3" r="4.7"/><circle cx="297" cy="349" r="4.7"/><circle cx="299.1" cy="352.9" r="4.7"/><circle cx="300.9" cy="355.5" r="4.7"/><circle cx="302" cy="358.3" r="4.7"/><circle cx="302.5" cy="361.2" r="4.7"/><circle cx="303.4" cy="362.7" r="4.7"/><circle cx="306.4" cy="363.5" r="4.7"/><circle cx="308.7" cy="365.6" r="4.7"/><circle cx="310.6" cy="366.8" r="4.7"/><circle cx="314.9" cy="370.1" r="4.7"/><circle cx="318.3" cy="372.5" r="4.7"/><circle cx="320.1" cy="373.4" r="4.7"/><circle cx="321.9" cy="377.5" r="4.7"/><circle cx="325.2" cy="378.4" r="4.7"/><circle cx="328.4" cy="378.6" r="4.7"/><circle cx="332.7" cy="381.3" r="4.7"/><circle cx="334.9" cy="382.7" r="4.7"/><circle cx="336.7" cy="386.5" r="4.7"/><circle cx="338.4" cy="389.3" r="4.7"/><circle cx="341.3" cy="392.1" r="4.7"/><circle cx="344.1" cy="393.8" r="4.7"/><circle cx="346.4" cy="395.9" r="4.7"/><circle cx="348.9" cy="399.2" r="4.7"/><circle cx="351.4" cy="402.3" r="4.7"/><circle cx="353.1" cy="407.2" r="4.7"/><circle cx="355.8" cy="410" r="4.7"/><circle cx="358.9" cy="412.6" r="4.7"/><circle cx="360.5" cy="416.4" r="4.7"/><circle cx="364.1" cy="418.7" r="4.7"/><circle cx="366.7" cy="421.8" r="4.7"/><circle cx="368.4" cy="424.4" r="4.7"/><circle cx="369.5" cy="426" r="4.7"/><circle cx="371.9" cy="430.5" r="4.7"/><circle cx="374.6" cy="431.8" r="4.7"/><circle cx="375.2" cy="433" r="4.7"/><circle cx="378.7" cy="432.7" r="4.7"/><circle cx="381.7" cy="435.4" r="4.7"/><circle cx="383.5" cy="435.8" r="4.7"/><circle cx="388.4" cy="436.7" r="4.7"/><circle cx="391.6" cy="437.3" r="4.7"/><circle cx="395.7" cy="438.4" r="4.7"/><circle cx="398.9" cy="438.4" r="4.7"/><circle cx="402.5" cy="440" r="4.7"/><circle cx="406.4" cy="440.6" r="4.7"/><circle cx="407.9" cy="442.5" r="4.7"/><circle cx="410.9" cy="443" r="4.7"/><circle cx="417.7" cy="444.7" r="4.7"/><circle cx="419" cy="447.8" r="4.7"/><circle cx="423.6" cy="452" r="4.7"/><circle cx="424.8" cy="454.3" r="4.7"/><circle cx="427.2" cy="455.5" r="4.7"/><circle cx="427.9" cy="456.3" r="4.7"/><circle cx="427.2" cy="458.1" r="4.7"/><circle cx="427.8" cy="457.1" r="4.7"/><circle cx="432.9" cy="454.2" r="4.7"/><circle cx="435.4" cy="454.5" r="4.7"/><circle cx="438.8" cy="453.4" r="4.7"/><circle cx="442.7" cy="453.1" r="4.7"/><circle cx="445.5" cy="453.6" r="4.7"/><circle cx="448.6" cy="451.8" r="4.7"/><circle cx="451.3" cy="450.7" r="4.7"/><circle cx="455.4" cy="450.3" r="4.7"/><circle cx="457.2" cy="448.3" r="4.7"/><circle cx="459.6" cy="448.4" r="4.7"/><circle cx="461.7" cy="446.5" r="4.7"/><circle cx="463.6" cy="444.1" r="4.7"/><circle cx="467.1" cy="439.7" r="4.7"/><circle cx="470.5" cy="438.2" r="4.7"/><circle cx="474.6" cy="435.5" r="4.7"/><circle cx="478.5" cy="434.3" r="4.7"/><circle cx="482.8" cy="432.9" r="4.7"/><circle cx="486" cy="431.1" r="4.7"/><circle cx="491.5" cy="429.8" r="4.7"/><circle cx="495.6" cy="430.4" r="4.7"/><circle cx="498.7" cy="429" r="4.7"/><circle cx="500.9" cy="428.4" r="4.7"/><circle cx="502.5" cy="427.3" r="4.7"/><circle cx="505.5" cy="426.3" r="4.7"/><circle cx="506.8" cy="424.6" r="4.7"/><circle cx="508.2" cy="421.7" r="4.7"/><circle cx="510.3" cy="418.6" r="4.7"/><circle cx="510.9" cy="416.7" r="4.7"/><circle cx="512.9" cy="414.3" r="4.7"/><circle cx="514.4" cy="409" r="4.7"/><circle cx="516.1" cy="406.1" r="4.7"/><circle cx="518.5" cy="404" r="4.7"/><circle cx="520" cy="401.2" r="4.7"/><circle cx="521.2" cy="397.8" r="4.7"/><circle cx="524.1" cy="394.1" r="4.7"/><circle cx="526.3" cy="391.9" r="4.7"/><circle cx="530.5" cy="390.4" r="4.7"/><circle cx="531.1" cy="388.2" r="4.7"/><circle cx="535" cy="385" r="4.7"/><circle cx="538.8" cy="380.9" r="4.7"/><circle cx="543.4" cy="378.5" r="4.7"/><circle cx="546.8" cy="375.3" r="4.7"/><circle cx="549.1" cy="376.1" r="4.7"/><circle cx="550" cy="375.3" r="4.7"/><circle cx="550.1" cy="373" r="4.7"/><circle cx="552.4" cy="371" r="4.7"/><circle cx="553.9" cy="368.3" r="4.7"/><circle cx="556.6" cy="364.5" r="4.7"/><circle cx="559.1" cy="362" r="4.7"/><circle cx="563.1" cy="359.1" r="4.7"/><circle cx="564" cy="357.4" r="4.7"/><circle cx="567.9" cy="354.7" r="4.7"/><circle cx="570" cy="352.8" r="4.7"/><circle cx="570.6" cy="350" r="4.7"/><circle cx="572.2" cy="347.1" r="4.7"/><circle cx="574.6" cy="345.4" r="4.7"/><circle cx="575.8" cy="341.7" r="4.7"/><circle cx="577.5" cy="338.2" r="4.7"/><circle cx="580.2" cy="335.9" r="4.7"/><circle cx="581.8" cy="333.1" r="4.7"/><circle cx="583.6" cy="329.2" r="4.7"/><circle cx="585.2" cy="325.8" r="4.7"/><circle cx="586.8" cy="323.6" r="4.7"/><circle cx="586.7" cy="321.5" r="4.7"/><circle cx="588.5" cy="317.7" r="4.7"/><circle cx="590.2" cy="316.1" r="4.7"/><circle cx="594" cy="311.6" r="4.7"/><circle cx="595.6" cy="310" r="4.7"/><circle cx="597.2" cy="306.6" r="4.7"/><circle cx="599.5" cy="304.4" r="4.7"/><circle cx="602.1" cy="302.8" r="4.7"/><circle cx="605" cy="300" r="4.7"/><circle cx="608" cy="297.1" r="4.7"/><circle cx="610.3" cy="294.8" r="4.7"/><circle cx="612.8" cy="292.8" r="4.7"/><circle cx="615.8" cy="290.4" r="4.7"/><circle cx="617.9" cy="288.8" r="4.7"/><circle cx="621.3" cy="286.1" r="4.7"/><circle cx="623.5" cy="283.5" r="4.7"/><circle cx="628.2" cy="280.6" r="4.7"/><circle cx="629.3" cy="278.7" r="4.7"/><circle cx="631.4" cy="276.2" r="4.7"/><circle cx="632.5" cy="274" r="4.7"/><circle cx="634.4" cy="272.3" r="4.7"/><circle cx="637.4" cy="270.8" r="4.7"/><circle cx="639.1" cy="268.4" r="4.7"/><circle cx="639.8" cy="265.4" r="4.7"/><circle cx="640.6" cy="262.6" r="4.7"/><circle cx="643.6" cy="261.1" r="4.7"/><circle cx="643.9" cy="258.1" r="4.7"/><circle cx="647.1" cy="254.4" r="4.7"/><circle cx="646.8" cy="252" r="4.7"/><circle cx="647.7" cy="249.2" r="4.7"/><circle cx="650.7" cy="245.1" r="4.7"/><circle cx="653.1" cy="241.8" r="4.7"/><circle cx="656.8" cy="240.1" r="4.7"/><circle cx="660.7" cy="237.6" r="4.7"/><circle cx="663.1" cy="235.5" r="4.7"/><circle cx="664.4" cy="232.2" r="4.7"/><circle cx="667.8" cy="228.5" r="4.7"/><circle cx="668.8" cy="225.6" r="4.7"/><circle cx="671.5" cy="219.6" r="4.7"/><circle cx="676.9" cy="217.9" r="4.7"/><circle cx="679.6" cy="216" r="4.7"/><circle cx="682.2" cy="214.4" r="4.7"/><circle cx="684.3" cy="211.7" r="4.7"/><circle cx="688.7" cy="210.7" r="4.7"/><circle cx="693.3" cy="208.6" r="4.7"/><circle cx="696" cy="207.5" r="4.7"/><circle cx="696.6" cy="204.3" r="4.7"/><circle cx="698.4" cy="202.4" r="4.7"/><circle cx="702.8" cy="198.6" r="4.7"/><circle cx="705.2" cy="195.9" r="4.7"/><circle cx="710.3" cy="193.3" r="4.7"/><circle cx="713.2" cy="190.2" r="4.7"/><circle cx="715.9" cy="188.6" r="4.7"/><circle cx="720.9" cy="186.6" r="4.7"/><circle cx="725.2" cy="183.9" r="4.7"/><circle cx="731.1" cy="181.8" r="4.7"/><circle cx="734" cy="181.4" r="4.7"/><circle cx="740.8" cy="183.4" r="4.7"/><circle cx="744.1" cy="185.3" r="4.7"/><circle cx="747.3" cy="187" r="4.7"/><circle cx="751.5" cy="187.8" r="4.7"/>
<circle cx="557.9" cy="298.7" r="4.7"/><circle cx="510.2" cy="365" r="4.7"/><circle cx="502" cy="377.4" r="4.7"/><circle cx="553.6" cy="380.8" r="4.7"/><circle cx="652.3" cy="196.6" r="4.7"/><circle cx="744.3" cy="106.7" r="4.7"/><circle cx="437" cy="406.6" r="4.7"/><circle cx="452" cy="406" r="4.7"/><circle cx="501.7" cy="377.7" r="4.7"/>
</g>
<g fill="#f00" stroke="#000" stroke-width="0.75">
<circle cx="107.5" cy="182.9" r="4.3"/><circle cx="110" cy="173.6" r="4.3"/><circle cx="114.3" cy="171.7" r="4.3"/><circle cx="120.6" cy="174.2" r="4.3"/><circle cx="123.9" cy="164" r="4.3"/><circle cx="126.8" cy="154.7" r="4.3"/><circle cx="129.7" cy="173.6" r="4.3"/><circle cx="133.2" cy="177.5" r="4.3"/><circle cx="136.4" cy="170.1" r="4.3"/><circle cx="140.3" cy="172.7" r="4.3"/><circle cx="145.5" cy="173.2" r="4.3"/><circle cx="153.4" cy="146" r="4.3"/><circle cx="148.6" cy="187.7" r="4.3"/><circle cx="156.3" cy="187.1" r="4.3"/><circle cx="159.2" cy="167.1" r="4.3"/><circle cx="162.5" cy="193.9" r="4.3"/><circle cx="165.4" cy="191" r="4.3"/><circle cx="168.3" cy="179.4" r="4.3"/><circle cx="171.7" cy="176.5" r="4.3"/><circle cx="174.6" cy="202.5" r="4.3"/><circle cx="177.9" cy="185.8" r="4.3"/><circle cx="181.2" cy="223.3" r="4.3"/><circle cx="185" cy="206" r="4.3"/><circle cx="188.5" cy="193.3" r="4.3"/><circle cx="191.4" cy="211.8" r="4.3"/><circle cx="194.3" cy="207.9" r="4.3"/><circle cx="197.7" cy="218.9" r="4.3"/><circle cx="200.6" cy="198.3" r="4.3"/><circle cx="203.9" cy="208.3" r="4.3"/><circle cx="206.8" cy="218" r="4.3"/><circle cx="210.3" cy="219.5" r="4.3"/><circle cx="217.4" cy="220.3" r="4.3"/><circle cx="236.3" cy="224.1" r="4.3"/><circle cx="213.3" cy="240" r="4.3"/><circle cx="217.3" cy="219.9" r="4.3"/><circle cx="223.7" cy="238" r="4.3"/><circle cx="220.2" cy="245.7" r="4.3"/><circle cx="229.5" cy="245.7" r="4.3"/><circle cx="232.9" cy="251.1" r="4.3"/><circle cx="245.3" cy="247" r="4.3"/><circle cx="227" cy="267.9" r="4.3"/><circle cx="239.1" cy="272.3" r="4.3"/><circle cx="249.3" cy="271.9" r="4.3"/><circle cx="252.6" cy="275.2" r="4.3"/><circle cx="255.9" cy="279" r="4.3"/><circle cx="242.4" cy="285.4" r="4.3"/><circle cx="265.1" cy="285.4" r="4.3"/><circle cx="261.3" cy="289.1" r="4.3"/><circle cx="258.4" cy="292.1" r="4.3"/><circle cx="277.7" cy="287.7" r="4.3"/><circle cx="274.4" cy="299.3" r="4.3"/><circle cx="270.9" cy="309.5" r="4.3"/><circle cx="267" cy="310.5" r="4.3"/><circle cx="291.1" cy="315.3" r="4.3"/><circle cx="284.4" cy="316.6" r="4.3"/><circle cx="281.1" cy="316.2" r="4.3"/><circle cx="273.9" cy="301" r="4.3"/><circle cx="271.9" cy="309.3" r="4.3"/><circle cx="281.6" cy="317" r="4.3"/><circle cx="285" cy="318.3" r="4.3"/><circle cx="287.9" cy="325.1" r="4.3"/><circle cx="297.6" cy="330.3" r="4.3"/><circle cx="294.1" cy="335.7" r="4.3"/><circle cx="306.6" cy="333.3" r="4.3"/><circle cx="303.3" cy="346.8" r="4.3"/><circle cx="300.3" cy="356.3" r="4.3"/><circle cx="309.9" cy="355.3" r="4.3"/><circle cx="320.5" cy="356.3" r="4.3"/><circle cx="314" cy="361.3" r="4.3"/><circle cx="316.8" cy="364.6" r="4.3"/><circle cx="323.4" cy="366.9" r="4.3"/><circle cx="326.3" cy="377.1" r="4.3"/><circle cx="329.2" cy="378.1" r="4.3"/><circle cx="335.5" cy="374.8" r="4.3"/><circle cx="342.3" cy="377.1" r="4.3"/><circle cx="332.3" cy="383.3" r="4.3"/><circle cx="338.8" cy="385.2" r="4.3"/><circle cx="355.4" cy="379" r="4.3"/><circle cx="348.7" cy="399.7" r="4.3"/><circle cx="352.3" cy="403.1" r="4.3"/><circle cx="345.8" cy="406" r="4.3"/><circle cx="358.3" cy="406" r="4.3"/><circle cx="364.5" cy="406.6" r="4.3"/><circle cx="374.1" cy="403.1" r="4.3"/><circle cx="384.7" cy="405.1" r="4.3"/><circle cx="367.9" cy="411.2" r="4.3"/><circle cx="361.6" cy="416.6" r="4.3"/><circle cx="370.8" cy="417.6" r="4.3"/><circle cx="378" cy="419.1" r="4.3"/><circle cx="396.8" cy="415.3" r="4.3"/><circle cx="371.5" cy="418.2" r="4.3"/><circle cx="378.3" cy="420.5" r="4.3"/><circle cx="381.6" cy="427.8" r="4.3"/><circle cx="387.3" cy="434.2" r="4.3"/><circle cx="390.6" cy="434.2" r="4.3"/><circle cx="397" cy="415.3" r="4.3"/><circle cx="393.7" cy="423.6" r="4.3"/><circle cx="400.3" cy="426.9" r="4.3"/><circle cx="406.2" cy="433" r="4.3"/><circle cx="409.9" cy="437.5" r="4.3"/><circle cx="403.2" cy="441.3" r="4.3"/><circle cx="413.4" cy="432.1" r="4.3"/><circle cx="416.7" cy="425.9" r="4.3"/><circle cx="423" cy="426.3" r="4.3"/><circle cx="425.9" cy="422.4" r="4.3"/><circle cx="419.7" cy="441.3" r="4.3"/><circle cx="428.8" cy="437.5" r="4.3"/><circle cx="432.1" cy="438.4" r="4.3"/><circle cx="435.5" cy="432.7" r="4.3"/><circle cx="438.4" cy="439.4" r="4.3"/><circle cx="442.3" cy="440.4" r="4.3"/><circle cx="445.2" cy="437.5" r="4.3"/><circle cx="448.5" cy="443.6" r="4.3"/><circle cx="451.9" cy="438.4" r="4.3"/><circle cx="454.8" cy="432.7" r="4.3"/><circle cx="458.1" cy="429.8" r="4.3"/><circle cx="461.2" cy="425.9" r="4.3"/><circle cx="464.1" cy="437.1" r="4.3"/><circle cx="467.7" cy="442.7" r="4.3"/><circle cx="470.6" cy="435.5" r="4.3"/><circle cx="474.7" cy="408.2" r="4.3"/><circle cx="478" cy="422.4" r="4.3"/><circle cx="480.8" cy="412.8" r="4.3"/><circle cx="484.1" cy="417.6" r="4.3"/><circle cx="487" cy="422.4" r="4.3"/><circle cx="490.5" cy="413.4" r="4.3"/><circle cx="493.4" cy="424.9" r="4.3"/><circle cx="496.7" cy="408" r="4.3"/><circle cx="499.7" cy="414.3" r="4.3"/><circle cx="506.9" cy="407" r="4.3"/><circle cx="510.3" cy="425.9" r="4.3"/><circle cx="503" cy="386.4" r="4.3"/><circle cx="513.2" cy="395.6" r="4.3"/><circle cx="516.5" cy="384.8" r="4.3"/><circle cx="519.4" cy="397" r="4.3"/><circle cx="522.9" cy="398" r="4.3"/><circle cx="525.8" cy="386.4" r="4.3"/><circle cx="529" cy="382.5" r="4.3"/><circle cx="531.4" cy="377" r="4.3"/><circle cx="539.2" cy="378.9" r="4.3"/><circle cx="535.3" cy="371.2" r="4.3"/><circle cx="542" cy="361.6" r="4.3"/><circle cx="548.4" cy="363.9" r="4.3"/><circle cx="544.9" cy="348.7" r="4.3"/><circle cx="551.7" cy="348.1" r="4.3"/><circle cx="557.9" cy="356.4" r="4.3"/><circle cx="567.1" cy="353.9" r="4.3"/><circle cx="554.6" cy="337.1" r="4.3"/><circle cx="560.7" cy="343.8" r="4.3"/><circle cx="564.2" cy="342.9" r="4.3"/><circle cx="571.3" cy="336.5" r="4.3"/><circle cx="574.4" cy="329.4" r="4.3"/><circle cx="577.7" cy="322" r="4.3"/><circle cx="580.6" cy="306.2" r="4.3"/><circle cx="583.9" cy="299.9" r="4.3"/><circle cx="587" cy="295.1" r="4.3"/><circle cx="590.2" cy="306.2" r="4.3"/><circle cx="593.5" cy="307.6" r="4.3"/><circle cx="596.6" cy="305.3" r="4.3"/><circle cx="599.3" cy="287.7" r="4.3"/><circle cx="603.7" cy="291.2" r="4.3"/><circle cx="606.6" cy="295.1" r="4.3"/><circle cx="613" cy="293.1" r="4.3"/><circle cx="609.5" cy="270.5" r="4.3"/><circle cx="616.3" cy="272.5" r="4.3"/><circle cx="619.2" cy="272.5" r="4.3"/><circle cx="628.4" cy="280.6" r="4.3"/><circle cx="625.3" cy="260.2" r="4.3"/><circle cx="631.6" cy="253.5" r="4.3"/><circle cx="638.4" cy="253.9" r="4.3"/><circle cx="641.8" cy="249.3" r="4.3"/><circle cx="622.4" cy="234.8" r="4.3"/><circle cx="635.5" cy="232.9" r="4.3"/><circle cx="645.1" cy="240.6" r="4.3"/><circle cx="648.4" cy="242.9" r="4.3"/><circle cx="651.3" cy="228.4" r="4.3"/><circle cx="657.7" cy="234.6" r="4.3"/><circle cx="654.4" cy="222.3" r="4.3"/><circle cx="660.5" cy="217.4" r="4.3"/><circle cx="667.9" cy="222.1" r="4.3"/><circle cx="663.8" cy="204.3" r="4.3"/><circle cx="670.8" cy="197.2" r="4.3"/><circle cx="674" cy="208.8" r="4.3"/><circle cx="680.2" cy="199.5" r="4.3"/><circle cx="683.3" cy="199.5" r="4.3"/><circle cx="689.5" cy="198.2" r="4.3"/><circle cx="686.6" cy="217.8" r="4.3"/><circle cx="677.3" cy="180.6" r="4.3"/><circle cx="693.3" cy="178.7" r="4.3"/><circle cx="696.2" cy="183.1" r="4.3"/><circle cx="700.1" cy="179.3" r="4.3"/><circle cx="703" cy="168.1" r="4.3"/><circle cx="706.4" cy="192.2" r="4.3"/><circle cx="709.3" cy="184.7" r="4.3"/><circle cx="712.6" cy="173.5" r="4.3"/><circle cx="715.9" cy="172" r="4.3"/><circle cx="719" cy="170.6" r="4.3"/><circle cx="721.8" cy="177.3" r="4.3"/><circle cx="725.1" cy="162.9" r="4.3"/><circle cx="727.7" cy="154.3" r="4.3"/><circle cx="731.9" cy="161" r="4.3"/><circle cx="735.1" cy="166.2" r="4.3"/><circle cx="738.2" cy="175.4" r="4.3"/><circle cx="741" cy="151.7" r="4.3"/><circle cx="744.4" cy="173.1" r="4.3"/><circle cx="746.3" cy="162.9" r="4.3"/>
</g>
</g>
<rect x="104.4" y="62.1" width="643.5" height="498.9" fill="none" stroke="#000" stroke-width="1.3"/>
<path d="M168.8 561.0v-5.8 M168.8 62.1v5.8 M297.4 561.0v-5.8 M297.4 62.1v5.8 M426.1 561.0v-5.8 M426.1 62.1v5.8 M554.9 561.0v-5.8 M554.9 62.1v5.8 M683.5 561.0v-5.8 M683.5 62.1v5.8 M104.4 62.1h5.8 M747.9 62.1h-5.8 M104.4 145.3h5.8 M747.9 145.3h-5.8 M104.4 228.4h5.8 M747.9 228.4h-5.8 M104.4 311.6h5.8 M747.9 311.6h-5.8 M104.4 394.7h5.8 M747.9 394.7h-5.8 M104.4 477.9h5.8 M747.9 477.9h-5.8 M104.4 561h5.8 M747.9 561h-5.8" stroke="#000" stroke-width="0.9" fill="none"/>
<g font-family="'Liberation Sans', sans-serif" fill="#000" stroke="#000" stroke-width="0.28">
<text x="49.94" y="54.00" transform="rotate(0.04 49.9 54.0)" font-size="22.5" textLength="70.11" lengthAdjust="spacingAndGlyphs">KEBC3</text>
<text x="127.91" y="54.00" transform="rotate(0.04 127.9 54.0)" font-size="22.5" textLength="77.55" lengthAdjust="spacingAndGlyphs">Phased</text>
<text x="213.44" y="54.00" transform="rotate(0.04 213.4 54.0)" font-size="22.5" textLength="23.27" lengthAdjust="spacingAndGlyphs">vs</text>
<text x="244.20" y="54.00" transform="rotate(0.04 244.2 54.0)" font-size="22.5" textLength="40.12" lengthAdjust="spacingAndGlyphs">EBF</text>
<text x="291.81" y="54.00" transform="rotate(0.04 291.8 54.0)" font-size="22.5" textLength="77.66" lengthAdjust="spacingAndGlyphs">Phased</text>
<text x="377.08" y="54.00" transform="rotate(0.04 377.1 54.0)" font-size="22.5" textLength="40.04" lengthAdjust="spacingAndGlyphs">and</text>
<text x="424.52" y="54.00" transform="rotate(0.04 424.5 54.0)" font-size="22.5" textLength="74.82" lengthAdjust="spacingAndGlyphs">Binned</text>
<text x="506.66" y="54.00" transform="rotate(0.04 506.7 54.0)" font-size="22.5" textLength="53.55" lengthAdjust="spacingAndGlyphs">Light</text>
<text x="567.41" y="54.00" transform="rotate(0.04 567.4 54.0)" font-size="22.5" textLength="63.71" lengthAdjust="spacingAndGlyphs">Curve</text>
<text x="638.22" y="54.00" transform="rotate(0.04 638.2 54.0)" font-size="22.5" textLength="21.26" lengthAdjust="spacingAndGlyphs">of</text>
<text x="666.27" y="54.00" transform="rotate(0.04 666.3 54.0)" font-size="22.5" textLength="34.90" lengthAdjust="spacingAndGlyphs">KIC</text>
<text x="709.09" y="54.00" transform="rotate(0.04 709.1 54.0)" font-size="22.5" textLength="94.75" lengthAdjust="spacingAndGlyphs">3848042</text>
<text x="187.23" y="606.60" transform="rotate(0.04 187.2 606.6)" font-size="22.5" textLength="64.35" lengthAdjust="spacingAndGlyphs">Phase</text>
<text x="259.03" y="606.60" transform="rotate(0.04 259.0 606.6)" font-size="22.5" textLength="82.64" lengthAdjust="spacingAndGlyphs">(Period:</text>
<text x="349.33" y="606.60" transform="rotate(0.04 349.3 606.6)" font-size="22.5" textLength="70.22" lengthAdjust="spacingAndGlyphs">KEBC3</text>
<text x="428.17" y="606.60" transform="rotate(0.04 428.2 606.6)" font-size="22.5" textLength="16.29" lengthAdjust="spacingAndGlyphs">=</text>
<text x="452.72" y="606.60" transform="rotate(0.04 452.7 606.6)" font-size="22.5" textLength="61.21" lengthAdjust="spacingAndGlyphs">0.41d</text>
<text x="521.59" y="606.60" transform="rotate(0.04 521.6 606.6)" font-size="22.5" textLength="40.23" lengthAdjust="spacingAndGlyphs">EBF</text>
<text x="570.17" y="606.60" transform="rotate(0.04 570.2 606.6)" font-size="22.5" textLength="16.29" lengthAdjust="spacingAndGlyphs">=</text>
<text x="594.72" y="606.60" transform="rotate(0.04 594.7 606.6)" font-size="22.5" textLength="69.67" lengthAdjust="spacingAndGlyphs">0.21d)</text>
<text transform="translate(44.7 393.40) rotate(-90)" x="-1.65" y="0" font-size="22.5" textLength="119.71" lengthAdjust="spacingAndGlyphs">normalized</text>
<text transform="translate(44.7 267.60) rotate(-90)" x="-0.38" y="0" font-size="22.5" textLength="39.63" lengthAdjust="spacingAndGlyphs">flux</text>
<text x="142.21" y="583.30" transform="rotate(0.04 142.2 583.3)" font-size="21.7" textLength="50.94" lengthAdjust="spacingAndGlyphs">−0.4</text>
<text x="272.10" y="583.30" transform="rotate(0.04 272.1 583.3)" font-size="21.7" textLength="51.13" lengthAdjust="spacingAndGlyphs">−0.2</text>
<text x="409.56" y="583.30" transform="rotate(0.04 409.6 583.3)" font-size="21.7" textLength="32.62" lengthAdjust="spacingAndGlyphs">0.0</text>
<text x="537.84" y="583.30" transform="rotate(0.04 537.8 583.3)" font-size="21.7" textLength="33.36" lengthAdjust="spacingAndGlyphs">0.2</text>
<text x="666.44" y="583.30" transform="rotate(0.04 666.4 583.3)" font-size="21.7" textLength="33.22" lengthAdjust="spacingAndGlyphs">0.4</text>
<text x="52.64" y="69.55" transform="rotate(0.04 52.6 69.5)" font-size="21.7" textLength="45.64" lengthAdjust="spacingAndGlyphs">1.04</text>
<text x="53.33" y="152.70" transform="rotate(0.04 53.3 152.7)" font-size="21.7" textLength="45.88" lengthAdjust="spacingAndGlyphs">1.02</text>
<text x="53.34" y="235.85" transform="rotate(0.04 53.3 235.9)" font-size="21.7" textLength="45.57" lengthAdjust="spacingAndGlyphs">1.00</text>
<text x="52.65" y="319.00" transform="rotate(0.04 52.7 319.0)" font-size="21.7" textLength="46.19" lengthAdjust="spacingAndGlyphs">0.98</text>
<text x="52.65" y="402.15" transform="rotate(0.04 52.7 402.2)" font-size="21.7" textLength="46.19" lengthAdjust="spacingAndGlyphs">0.96</text>
<text x="52.65" y="485.30" transform="rotate(0.04 52.7 485.3)" font-size="21.7" textLength="46.03" lengthAdjust="spacingAndGlyphs">0.94</text>
<text x="52.64" y="568.45" transform="rotate(0.04 52.6 568.5)" font-size="21.7" textLength="46.59" lengthAdjust="spacingAndGlyphs">0.92</text>
<rect x="114.7" y="458.7" width="223.3" height="91.59999999999997" fill="#fff" stroke="#000" stroke-width="1.3"/>
<g fill="#a9a9a9" stroke="none"><circle cx="129" cy="474.6" r="7.45"/><circle cx="157.9" cy="474.6" r="7.45"/></g>
<g fill="#000" stroke="none"><circle cx="129" cy="504.7" r="4.7"/><circle cx="157.9" cy="504.7" r="4.7"/></g>
<g fill="#f00" stroke="#000" stroke-width="0.75"><circle cx="129" cy="535" r="4.3"/><circle cx="157.9" cy="535" r="4.3"/></g>
<text x="180.49" y="481.50" transform="rotate(0.04 180.5 481.5)" font-size="21.6" textLength="67.82" lengthAdjust="spacingAndGlyphs">KEBC3</text>
<text x="255.87" y="481.50" transform="rotate(0.04 255.9 481.5)" font-size="21.6" textLength="75.15" lengthAdjust="spacingAndGlyphs">Phased</text>
<text x="180.75" y="512.00" transform="rotate(0.04 180.8 512.0)" font-size="21.6" textLength="38.84" lengthAdjust="spacingAndGlyphs">EBF</text>
<text x="226.87" y="512.00" transform="rotate(0.04 226.9 512.0)" font-size="21.6" textLength="75.15" lengthAdjust="spacingAndGlyphs">Phased</text>
<text x="180.75" y="542.30" transform="rotate(0.04 180.7 542.3)" font-size="21.6" textLength="38.95" lengthAdjust="spacingAndGlyphs">EBF</text>
<text x="226.88" y="542.30" transform="rotate(0.04 226.9 542.3)" font-size="21.6" textLength="72.61" lengthAdjust="spacingAndGlyphs">Binned</text>
</g>
</svg>
</body></html>
